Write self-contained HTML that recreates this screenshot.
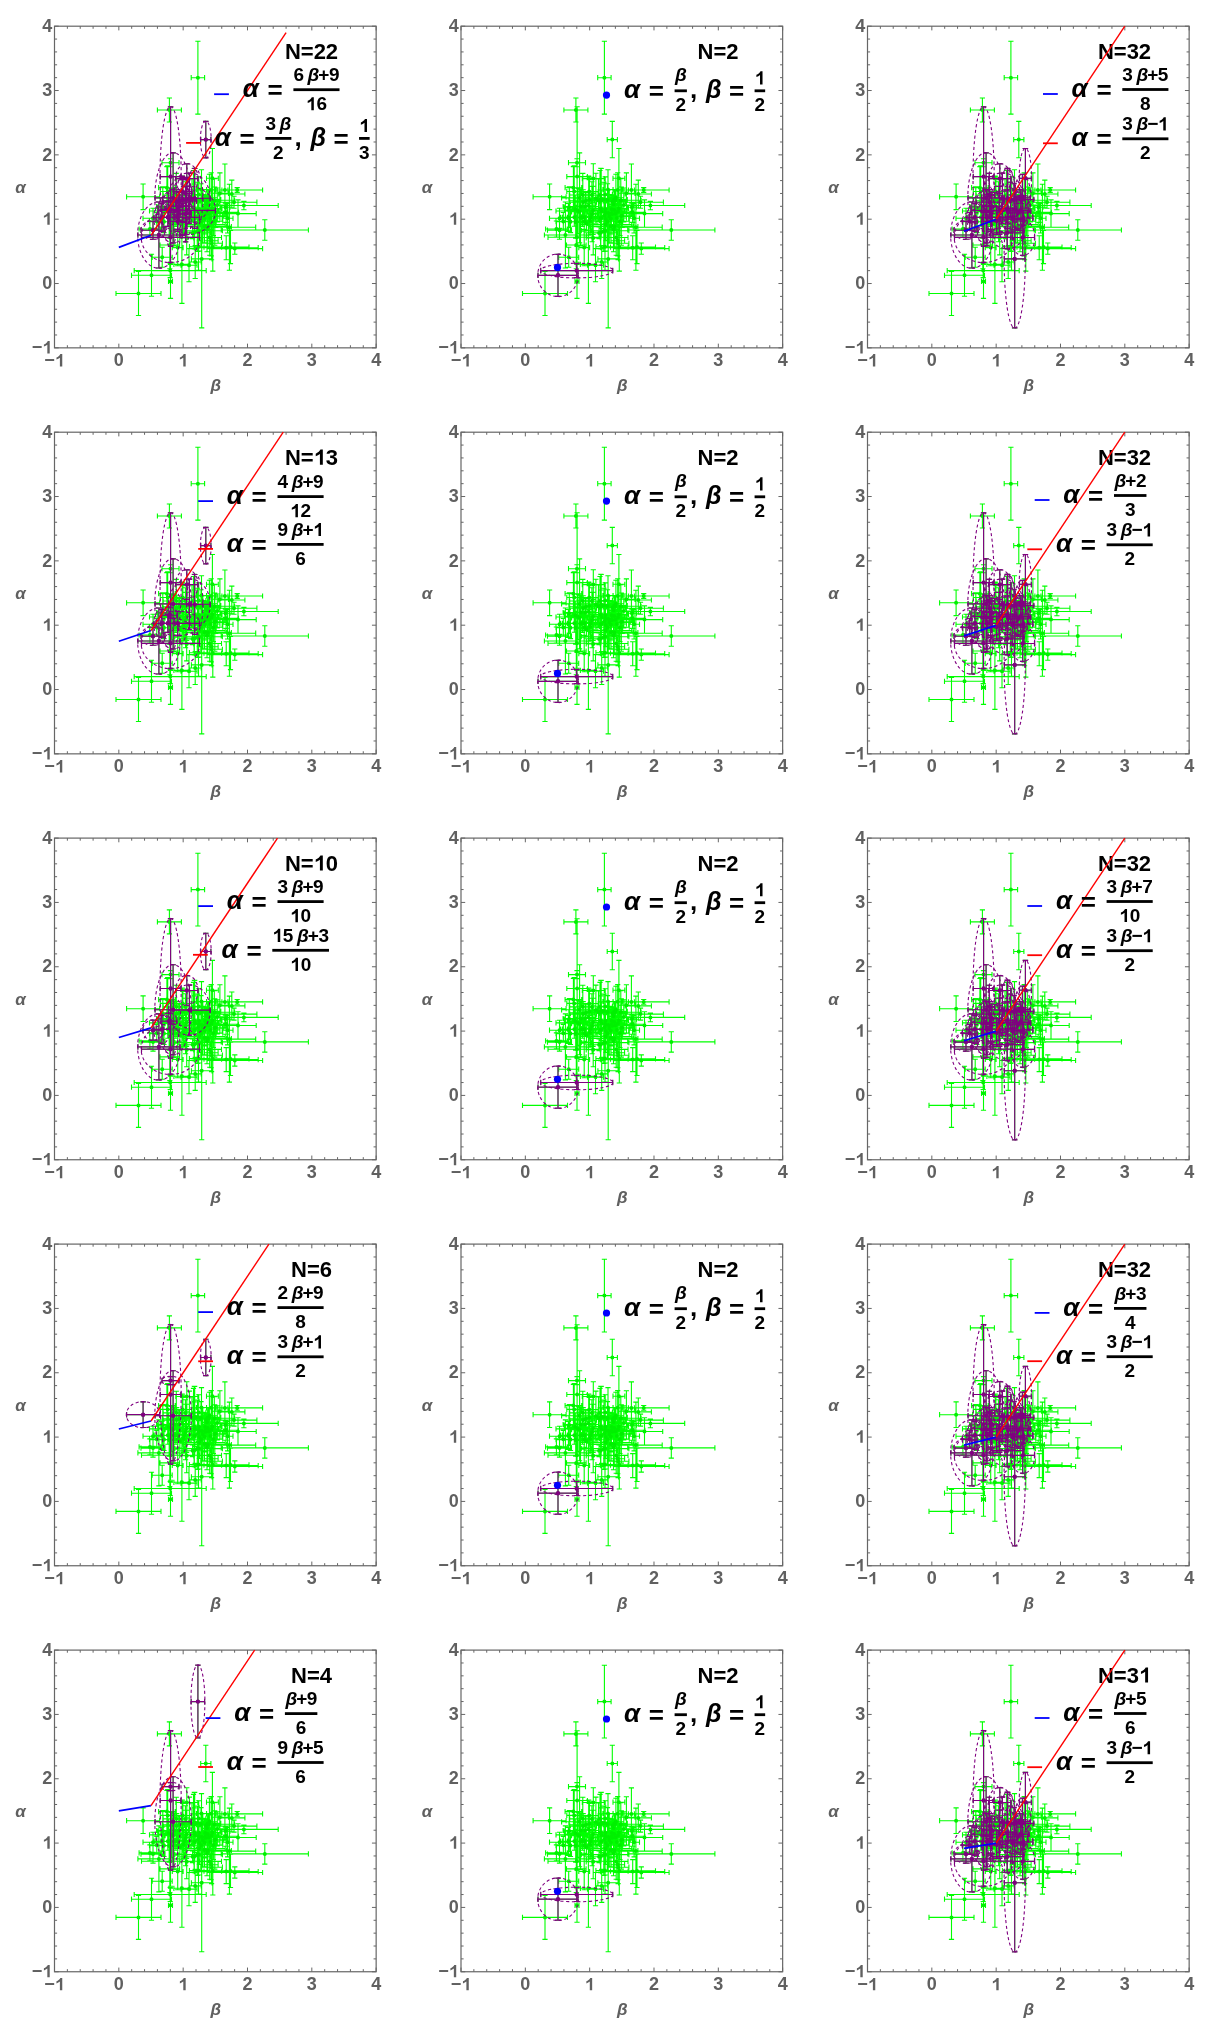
<!DOCTYPE html>
<html><head><meta charset="utf-8"><style>
html,body{margin:0;padding:0;background:#fff;width:1213px;height:2029px;overflow:hidden}
svg{display:block;font-family:"Liberation Sans",sans-serif;will-change:transform}
</style></head><body><svg width="1213" height="2029" viewBox="0 0 1213 2029" font-family="Liberation Sans" font-weight="bold"><defs><g id="ax"><rect x="0" y="0" width="321.65" height="321.65" fill="none" stroke="#666" stroke-width="1.2"/><path d="M0.00 321.65v-4.2M0.00 0v4.2M0 0.00h4.2M321.65 0.00h-4.2M12.87 321.65v-2.6M12.87 0v2.6M0 12.87h2.6M321.65 12.87h-2.6M25.73 321.65v-2.6M25.73 0v2.6M0 25.73h2.6M321.65 25.73h-2.6M38.60 321.65v-2.6M38.60 0v2.6M0 38.60h2.6M321.65 38.60h-2.6M51.46 321.65v-2.6M51.46 0v2.6M0 51.46h2.6M321.65 51.46h-2.6M64.33 321.65v-4.2M64.33 0v4.2M0 64.33h4.2M321.65 64.33h-4.2M77.20 321.65v-2.6M77.20 0v2.6M0 77.20h2.6M321.65 77.20h-2.6M90.06 321.65v-2.6M90.06 0v2.6M0 90.06h2.6M321.65 90.06h-2.6M102.93 321.65v-2.6M102.93 0v2.6M0 102.93h2.6M321.65 102.93h-2.6M115.79 321.65v-2.6M115.79 0v2.6M0 115.79h2.6M321.65 115.79h-2.6M128.66 321.65v-4.2M128.66 0v4.2M0 128.66h4.2M321.65 128.66h-4.2M141.53 321.65v-2.6M141.53 0v2.6M0 141.53h2.6M321.65 141.53h-2.6M154.39 321.65v-2.6M154.39 0v2.6M0 154.39h2.6M321.65 154.39h-2.6M167.26 321.65v-2.6M167.26 0v2.6M0 167.26h2.6M321.65 167.26h-2.6M180.12 321.65v-2.6M180.12 0v2.6M0 180.12h2.6M321.65 180.12h-2.6M192.99 321.65v-4.2M192.99 0v4.2M0 192.99h4.2M321.65 192.99h-4.2M205.86 321.65v-2.6M205.86 0v2.6M0 205.86h2.6M321.65 205.86h-2.6M218.72 321.65v-2.6M218.72 0v2.6M0 218.72h2.6M321.65 218.72h-2.6M231.59 321.65v-2.6M231.59 0v2.6M0 231.59h2.6M321.65 231.59h-2.6M244.45 321.65v-2.6M244.45 0v2.6M0 244.45h2.6M321.65 244.45h-2.6M257.32 321.65v-4.2M257.32 0v4.2M0 257.32h4.2M321.65 257.32h-4.2M270.19 321.65v-2.6M270.19 0v2.6M0 270.19h2.6M321.65 270.19h-2.6M283.05 321.65v-2.6M283.05 0v2.6M0 283.05h2.6M321.65 283.05h-2.6M295.92 321.65v-2.6M295.92 0v2.6M0 295.92h2.6M321.65 295.92h-2.6M308.78 321.65v-2.6M308.78 0v2.6M0 308.78h2.6M321.65 308.78h-2.6M321.65 321.65v-4.2M321.65 0v4.2M0 321.65h4.2M321.65 321.65h-4.2" stroke="#666" stroke-width="1" fill="none"/><text x="-10.26" y="340.25" font-size="18" fill="#606060">− </text><path transform="translate(0.25,340.25) scale(0.00879,-0.00879)" d="M855 0H585V1000C475 900 345 840 195 790V1030C285 1060 385 1120 475 1200C555 1270 605 1340 635 1409H855Z" fill="#606060"/><text x="-22.82" y="327.24" font-size="18" fill="#606060">− </text><path transform="translate(-12.31,327.24) scale(0.00879,-0.00879)" d="M855 0H585V1000C475 900 345 840 195 790V1030C285 1060 385 1120 475 1200C555 1270 605 1340 635 1409H855Z" fill="#606060"/><text x="59.32" y="340.25" font-size="18" fill="#606060">0</text><text x="-12.31" y="262.91" font-size="18" fill="#606060">0</text><text x="123.65" y="340.25" font-size="18" fill="#606060"> </text><path transform="translate(123.65,340.25) scale(0.00879,-0.00879)" d="M855 0H585V1000C475 900 345 840 195 790V1030C285 1060 385 1120 475 1200C555 1270 605 1340 635 1409H855Z" fill="#606060"/><text x="-12.31" y="198.58" font-size="18" fill="#606060"> </text><path transform="translate(-12.31,198.58) scale(0.00879,-0.00879)" d="M855 0H585V1000C475 900 345 840 195 790V1030C285 1060 385 1120 475 1200C555 1270 605 1340 635 1409H855Z" fill="#606060"/><text x="187.98" y="340.25" font-size="18" fill="#606060">2</text><text x="-12.31" y="134.34" font-size="18" fill="#606060">2</text><text x="252.31" y="340.25" font-size="18" fill="#606060">3</text><text x="-12.31" y="69.89" font-size="18" fill="#606060">3</text><text x="316.64" y="340.25" font-size="18" fill="#606060">4</text><text x="-12.31" y="5.59" font-size="18" fill="#606060">4</text><text x="-39.25" y="166.60" font-size="17" font-style="italic" fill="#606060">α</text><text x="156.10" y="364.50" font-size="17" font-style="italic" fill="#606060">β</text></g><g id="gr"><path d="M136.7 51.5H150.1M143.4 15.1V87.9M136.7 48.9v5.2M150.1 48.9v5.2M140.8 15.1h5.2M140.8 87.9h5.2M102.9 83.8H126.9M114.9 71.8V95.8M102.9 81.2v5.2M126.9 81.2v5.2M112.3 71.8h5.2M112.3 95.8h5.2M146.2 113.4H156.4M151.3 95.2V131.6M146.2 110.8v5.2M156.4 110.8v5.2M148.7 95.2h5.2M148.7 131.6h5.2M72.1 170.6H105.1M88.6 157.8V183.4M72.1 168.0v5.2M105.1 168.0v5.2M86.0 157.8h5.2M86.0 183.4h5.2M107.5 136.5H124.5M116.0 132.5V140.5M107.5 133.9v5.2M124.5 133.9v5.2M113.4 132.5h5.2M113.4 140.5h5.2M105.8 150.4H126.4M116.1 80.6V220.2M105.8 147.8v5.2M126.4 147.8v5.2M113.5 80.6h5.2M113.5 220.2h5.2M100.6 171.7H136.6M118.6 126.7V216.7M100.6 169.1v5.2M136.6 169.1v5.2M116.0 126.7h5.2M116.0 216.7h5.2M152.0 152.1H163.8M157.9 122.3V181.9M152.0 149.5v5.2M163.8 149.5v5.2M155.3 122.3h5.2M155.3 181.9h5.2M157.3 163.8H208.1M182.7 161.4V166.2M157.3 161.2v5.2M208.1 161.2v5.2M180.1 161.4h5.2M180.1 166.2h5.2M155.1 179.3H223.7M189.4 175.0V183.6M155.1 176.7v5.2M223.7 176.7v5.2M186.8 175.0h5.2M186.8 183.6h5.2M156.6 176.0H202.4M179.5 170.0V182.0M156.6 173.4v5.2M202.4 173.4v5.2M176.9 170.0h5.2M176.9 182.0h5.2M165.3 187.4H201.7M183.5 173.7V201.1M165.3 184.8v5.2M201.7 184.8v5.2M180.9 173.7h5.2M180.9 201.1h5.2M166.7 203.8H253.9M210.3 193.6V214.0M166.7 201.2v5.2M253.9 201.2v5.2M207.7 193.6h5.2M207.7 214.0h5.2M148.6 201.0H201.2M174.9 158.0V244.0M148.6 198.4v5.2M201.2 198.4v5.2M172.3 158.0h5.2M172.3 244.0h5.2M152.5 222.4H208.1M180.3 216.8V228.0M152.5 219.8v5.2M208.1 219.8v5.2M177.7 216.8h5.2M177.7 228.0h5.2M157.5 220.8H194.5M176.0 204.2V237.4M157.5 218.2v5.2M194.5 218.2v5.2M173.4 204.2h5.2M173.4 237.4h5.2M139.7 221.5H203.7M171.7 209.5V233.5M139.7 218.9v5.2M203.7 218.9v5.2M169.1 209.5h5.2M169.1 233.5h5.2M61.5 267.3H106.5M84.0 245.3V289.3M61.5 264.7v5.2M106.5 264.7v5.2M81.4 245.3h5.2M81.4 289.3h5.2M77.0 249.1H117.0M97.0 228.1V270.1M77.0 246.5v5.2M117.0 246.5v5.2M94.4 228.1h5.2M94.4 270.1h5.2M79.7 244.4H151.7M115.7 237.4V251.4M79.7 241.8v5.2M151.7 241.8v5.2M113.1 237.4h5.2M113.1 251.4h5.2M136.9 232.7H157.5M147.2 163.7V301.7M136.9 230.1v5.2M157.5 230.1v5.2M144.6 163.7h5.2M144.6 301.7h5.2M119.4 238.2H135.4M127.4 199.2V277.2M119.4 235.6v5.2M135.4 235.6v5.2M124.8 199.2h5.2M124.8 277.2h5.2M126.5 239.0H142.5M134.5 222.4V255.6M126.5 236.4v5.2M142.5 236.4v5.2M131.9 222.4h5.2M131.9 255.6h5.2M121.3 152.4H143.3M132.3 137.6V167.2M121.3 149.8v5.2M143.3 149.8v5.2M129.7 137.6h5.2M129.7 167.2h5.2M97.7 231.1H117.7M107.7 221.1V241.1M97.7 228.5v5.2M117.7 228.5v5.2M105.1 221.1h5.2M105.1 241.1h5.2M114.0 255.2H118.0M116.0 238.2V272.2M114.0 252.6v5.2M118.0 252.6v5.2M113.4 238.2h5.2M113.4 272.2h5.2M114.3 172.0H155.5M134.9 147.0V197.0M114.3 169.4v5.2M155.5 169.4v5.2M132.3 147.0h5.2M132.3 197.0h5.2M106.3 183.0H122.3M114.3 175.0V191.0M106.3 180.4v5.2M122.3 180.4v5.2M111.7 175.0h5.2M111.7 191.0h5.2M99.4 191.3H115.4M107.4 177.3V205.3M99.4 188.7v5.2M115.4 188.7v5.2M104.8 177.3h5.2M104.8 205.3h5.2M83.4 208.8H125.4M104.4 175.8V241.8M83.4 206.2v5.2M125.4 206.2v5.2M101.8 175.8h5.2M101.8 241.8h5.2M87.0 211.1H145.0M116.0 186.1V236.1M87.0 208.5v5.2M145.0 208.5v5.2M113.4 186.1h5.2M113.4 236.1h5.2M167.4 163.8H173.4M170.4 137.8V189.8M167.4 161.2v5.2M173.4 161.2v5.2M167.8 137.8h5.2M167.8 189.8h5.2M130.8 182.4H148.8M139.8 142.1V222.7M130.8 179.8v5.2M148.8 179.8v5.2M137.2 142.1h5.2M137.2 222.7h5.2M139.5 173.8H153.5M146.5 157.5V190.1M139.5 171.2v5.2M153.5 171.2v5.2M143.9 157.5h5.2M143.9 190.1h5.2M134.7 235.8H146.7M140.7 219.3V252.3M134.7 233.2v5.2M146.7 233.2v5.2M138.1 219.3h5.2M138.1 252.3h5.2M88.5 192.1H108.5M98.5 182.1V202.1M88.5 189.5v5.2M108.5 189.5v5.2M95.9 182.1h5.2M95.9 202.1h5.2M84.6 202.8H106.2M95.4 194.8V210.8M84.6 200.2v5.2M106.2 200.2v5.2M92.8 194.8h5.2M92.8 210.8h5.2M132.2 172.3H148.2M140.2 142.3V202.3M132.2 169.7v5.2M148.2 169.7v5.2M137.6 142.3h5.2M137.6 202.3h5.2M106.3 191.1H120.3M113.3 182.1V200.1M106.3 188.5v5.2M120.3 188.5v5.2M110.7 182.1h5.2M110.7 200.1h5.2M101.5 191.1H144.9M123.2 179.1V203.1M101.5 188.5v5.2M144.9 188.5v5.2M120.6 179.1h5.2M120.6 203.1h5.2M86.5 204.0H110.5M98.5 195.0V213.0M86.5 201.4v5.2M110.5 201.4v5.2M95.9 195.0h5.2M95.9 213.0h5.2M119.2 165.4H137.2M128.2 153.4V177.4M119.2 162.8v5.2M137.2 162.8v5.2M125.6 153.4h5.2M125.6 177.4h5.2M114.2 180.2H134.2M124.2 166.2V194.2M114.2 177.6v5.2M134.2 177.6v5.2M121.6 166.2h5.2M121.6 194.2h5.2M114.2 195.1H132.2M123.2 185.1V205.1M114.2 192.5v5.2M132.2 192.5v5.2M120.6 185.1h5.2M120.6 205.1h5.2M99.7 191.1H143.1M121.4 182.0V200.2M99.7 188.5v5.2M143.1 188.5v5.2M118.8 182.0h5.2M118.8 200.2h5.2M110.6 185.6H126.4M118.5 174.9V196.3M110.6 183.0v5.2M126.4 183.0v5.2M115.9 174.9h5.2M115.9 196.3h5.2M103.2 181.0H113.4M108.3 160.5V201.5M103.2 178.4v5.2M113.4 178.4v5.2M105.7 160.5h5.2M105.7 201.5h5.2M119.1 173.7H137.7M128.4 151.1V196.3M119.1 171.1v5.2M137.7 171.1v5.2M125.8 151.1h5.2M125.8 196.3h5.2M167.7 192.1H178.5M173.1 177.4V206.8M167.7 189.5v5.2M178.5 189.5v5.2M170.5 177.4h5.2M170.5 206.8h5.2M138.6 175.2H164.6M151.6 169.3V181.1M138.6 172.6v5.2M164.6 172.6v5.2M149.0 169.3h5.2M149.0 181.1h5.2M159.3 186.2H183.9M171.6 176.2V196.2M159.3 183.6v5.2M183.9 183.6v5.2M169.0 176.2h5.2M169.0 196.2h5.2M154.4 189.6H168.0M161.2 178.0V201.2M154.4 187.0v5.2M168.0 187.0v5.2M158.6 178.0h5.2M158.6 201.2h5.2M166.3 181.0H175.5M170.9 177.0V185.0M166.3 178.4v5.2M175.5 178.4v5.2M168.3 177.0h5.2M168.3 185.0h5.2M149.9 185.4H164.1M157.0 174.6V196.2M149.9 182.8v5.2M164.1 182.8v5.2M154.4 174.6h5.2M154.4 196.2h5.2M127.4 191.7H153.0M140.2 172.3V211.1M127.4 189.1v5.2M153.0 189.1v5.2M137.6 172.3h5.2M137.6 211.1h5.2M143.9 192.6H155.9M149.9 168.6V216.6M143.9 190.0v5.2M155.9 190.0v5.2M147.3 168.6h5.2M147.3 216.6h5.2M127.9 200.0H172.1M150.0 192.2V207.8M127.9 197.4v5.2M172.1 197.4v5.2M147.4 192.2h5.2M147.4 207.8h5.2M119.7 194.5H138.5M129.1 180.7V208.3M119.7 191.9v5.2M138.5 191.9v5.2M126.5 180.7h5.2M126.5 208.3h5.2M145.2 187.7H157.2M151.2 180.4V195.0M145.2 185.1v5.2M157.2 185.1v5.2M148.6 180.4h5.2M148.6 195.0h5.2M123.1 206.6H156.1M139.6 190.9V222.3M123.1 204.0v5.2M156.1 204.0v5.2M137.0 190.9h5.2M137.0 222.3h5.2M149.5 195.0H168.3M158.9 180.6V209.4M149.5 192.4v5.2M168.3 192.4v5.2M156.3 180.6h5.2M156.3 209.4h5.2M95.0 195.2H109.6M102.3 186.3V204.1M95.0 192.6v5.2M109.6 192.6v5.2M99.7 186.3h5.2M99.7 204.1h5.2M132.8 192.9H156.8M144.8 182.2V203.6M132.8 190.3v5.2M156.8 190.3v5.2M142.2 182.2h5.2M142.2 203.6h5.2M129.7 200.4H176.9M153.3 180.3V220.5M129.7 197.8v5.2M176.9 197.8v5.2M150.7 180.3h5.2M150.7 220.5h5.2M121.5 179.5H133.9M127.7 149.9V209.1M121.5 176.9v5.2M133.9 176.9v5.2M125.1 149.9h5.2M125.1 209.1h5.2M130.1 204.7H155.5M142.8 184.1V225.3M130.1 202.1v5.2M155.5 202.1v5.2M140.2 184.1h5.2M140.2 225.3h5.2M146.3 203.2H158.7M152.5 180.8V225.6M146.3 200.6v5.2M158.7 200.6v5.2M149.9 180.8h5.2M149.9 225.6h5.2M142.3 174.1H166.1M154.2 163.4V184.8M142.3 171.5v5.2M166.1 171.5v5.2M151.6 163.4h5.2M151.6 184.8h5.2M146.4 191.8H165.4M155.9 184.3V199.3M146.4 189.2v5.2M165.4 189.2v5.2M153.3 184.3h5.2M153.3 199.3h5.2M123.1 190.2H173.5M148.3 163.5V216.9M123.1 187.6v5.2M173.5 187.6v5.2M145.7 163.5h5.2M145.7 216.9h5.2M138.7 189.2H148.7M143.7 173.3V205.1M138.7 186.6v5.2M148.7 186.6v5.2M141.1 173.3h5.2M141.1 205.1h5.2M137.2 186.2H151.2M144.2 174.9V197.5M137.2 183.6v5.2M151.2 183.6v5.2M141.6 174.9h5.2M141.6 197.5h5.2M122.3 186.8H172.3M147.3 182.3V191.3M122.3 184.2v5.2M172.3 184.2v5.2M144.7 182.3h5.2M144.7 191.3h5.2M124.7 168.9H153.3M139.0 144.3V193.5M124.7 166.3v5.2M153.3 166.3v5.2M136.4 144.3h5.2M136.4 193.5h5.2M147.0 178.1H158.0M152.5 174.0V182.2M147.0 175.5v5.2M158.0 175.5v5.2M149.9 174.0h5.2M149.9 182.2h5.2M119.3 197.0H131.5M125.4 190.1V203.9M119.3 194.4v5.2M131.5 194.4v5.2M122.8 190.1h5.2M122.8 203.9h5.2M139.5 174.1H180.1M159.8 152.5V195.7M139.5 171.5v5.2M180.1 171.5v5.2M157.2 152.5h5.2M157.2 195.7h5.2M122.2 182.7H166.8M144.5 176.7V188.7M122.2 180.1v5.2M166.8 180.1v5.2M141.9 176.7h5.2M141.9 188.7h5.2M120.3 204.5H167.9M144.1 184.1V224.9M120.3 201.9v5.2M167.9 201.9v5.2M141.5 184.1h5.2M141.5 224.9h5.2M143.4 187.5H165.6M154.5 171.8V203.2M143.4 184.9v5.2M165.6 184.9v5.2M151.9 171.8h5.2M151.9 203.2h5.2M95.0 195.5H124.0M109.5 184.6V206.4M95.0 192.9v5.2M124.0 192.9v5.2M106.9 184.6h5.2M106.9 206.4h5.2M102.4 195.6H127.0M114.7 179.1V212.1M102.4 193.0v5.2M127.0 193.0v5.2M112.1 179.1h5.2M112.1 212.1h5.2M141.7 183.0H159.7M150.7 178.7V187.3M141.7 180.4v5.2M159.7 180.4v5.2M148.1 178.7h5.2M148.1 187.3h5.2M145.3 183.9H161.3M153.3 163.4V204.4M145.3 181.3v5.2M161.3 181.3v5.2M150.7 163.4h5.2M150.7 204.4h5.2M118.7 198.4H170.7M144.7 182.4V214.4M118.7 195.8v5.2M170.7 195.8v5.2M142.1 182.4h5.2M142.1 214.4h5.2M140.1 173.3H166.3M153.2 169.6V177.0M140.1 170.7v5.2M166.3 170.7v5.2M150.6 169.6h5.2M150.6 177.0h5.2M108.9 176.0H135.5M122.2 163.5V188.5M108.9 173.4v5.2M135.5 173.4v5.2M119.6 163.5h5.2M119.6 188.5h5.2M102.1 180.4H137.7M119.9 176.1V184.7M102.1 177.8v5.2M137.7 177.8v5.2M117.3 176.1h5.2M117.3 184.7h5.2M132.4 206.7H143.8M138.1 200.8V212.6M132.4 204.1v5.2M143.8 204.1v5.2M135.5 200.8h5.2M135.5 212.6h5.2M107.9 174.6H142.1M125.0 165.5V183.7M107.9 172.0v5.2M142.1 172.0v5.2M122.4 165.5h5.2M122.4 183.7h5.2M125.7 187.9H136.5M131.1 160.2V215.6M125.7 185.3v5.2M136.5 185.3v5.2M128.5 160.2h5.2M128.5 215.6h5.2M131.3 195.1H161.7M146.5 169.1V221.1M131.3 192.5v5.2M161.7 192.5v5.2M143.9 169.1h5.2M143.9 221.1h5.2M140.8 186.7H160.0M150.4 170.7V202.7M140.8 184.1v5.2M160.0 184.1v5.2M147.8 170.7h5.2M147.8 202.7h5.2M114.7 191.4H124.3M119.5 163.1V219.7M114.7 188.8v5.2M124.3 188.8v5.2M116.9 163.1h5.2M116.9 219.7h5.2M148.1 182.4H167.5M157.8 176.9V187.9M148.1 179.8v5.2M167.5 179.8v5.2M155.2 176.9h5.2M155.2 187.9h5.2M164.2 167.8H190.4M177.3 153.9V181.7M164.2 165.2v5.2M190.4 165.2v5.2M174.7 153.9h5.2M174.7 181.7h5.2M117.7 184.8H163.1M140.4 163.8V205.8M117.7 182.2v5.2M163.1 182.2v5.2M137.8 163.8h5.2M137.8 205.8h5.2M125.1 191.2H134.3M129.7 185.3V197.1M125.1 188.6v5.2M134.3 188.6v5.2M127.1 185.3h5.2M127.1 197.1h5.2M151.4 189.9H169.2M160.3 160.8V219.0M151.4 187.3v5.2M169.2 187.3v5.2M157.7 160.8h5.2M157.7 219.0h5.2M95.0 184.8H139.2M117.1 162.3V207.3M95.0 182.2v5.2M139.2 182.2v5.2M114.5 162.3h5.2M114.5 207.3h5.2M108.7 168.8H153.1M130.9 155.6V182.0M108.7 166.2v5.2M153.1 166.2v5.2M128.3 155.6h5.2M128.3 182.0h5.2M103.4 184.2H160.8M132.1 160.1V208.3M103.4 181.6v5.2M160.8 181.6v5.2M129.5 160.1h5.2M129.5 208.3h5.2M153.4 178.8H172.2M162.8 161.8V195.8M153.4 176.2v5.2M172.2 176.2v5.2M160.2 161.8h5.2M160.2 195.8h5.2M137.0 168.3H151.4M144.2 150.7V185.9M137.0 165.7v5.2M151.4 165.7v5.2M141.6 150.7h5.2M141.6 185.9h5.2M116.5 168.7H127.1M121.8 147.2V190.2M116.5 166.1v5.2M127.1 166.1v5.2M119.2 147.2h5.2M119.2 190.2h5.2M104.1 161.5H120.7M112.4 140.4V182.6M104.1 158.9v5.2M120.7 158.9v5.2M109.8 140.4h5.2M109.8 182.6h5.2M133.5 174.5H145.9M139.7 157.8V191.2M133.5 171.9v5.2M145.9 171.9v5.2M137.1 157.8h5.2M137.1 191.2h5.2M147.0 171.6H162.8M154.9 148.1V195.1M147.0 169.0v5.2M162.8 169.0v5.2M152.3 148.1h5.2M152.3 195.1h5.2M156.8 167.1H174.0M165.4 146.7V187.5M156.8 164.5v5.2M174.0 164.5v5.2M162.8 146.7h5.2M162.8 187.5h5.2M137.1 173.0H148.9M143.0 156.0V190.0M137.1 170.4v5.2M148.9 170.4v5.2M140.4 156.0h5.2M140.4 190.0h5.2M130.0 174.2H145.0M137.5 152.8V195.6M130.0 171.6v5.2M145.0 171.6v5.2M134.9 152.8h5.2M134.9 195.6h5.2M141.9 163.4H152.1M147.0 143.5V183.3M141.9 160.8v5.2M152.1 160.8v5.2M144.4 143.5h5.2M144.4 183.3h5.2M152.0 163.7H161.4M156.7 146.5V180.9M152.0 161.1v5.2M161.4 161.1v5.2M154.1 146.5h5.2M154.1 180.9h5.2M105.8 165.3H120.6M113.2 139.5V191.1M105.8 162.7v5.2M120.6 162.7v5.2M110.6 139.5h5.2M110.6 191.1h5.2M125.2 211.7H139.2M132.2 194.7V228.7M125.2 209.1v5.2M139.2 209.1v5.2M129.6 194.7h5.2M129.6 228.7h5.2M150.0 214.6H163.6M156.8 199.5V229.7M150.0 212.0v5.2M163.6 212.0v5.2M154.2 199.5h5.2M154.2 229.7h5.2M146.3 217.1H167.9M157.1 200.7V233.5M146.3 214.5v5.2M167.9 214.5v5.2M154.5 200.7h5.2M154.5 233.5h5.2M134.9 220.5H153.1M144.0 197.0V244.0M134.9 217.9v5.2M153.1 217.9v5.2M141.4 197.0h5.2M141.4 244.0h5.2M117.8 221.4H128.6M123.2 203.2V239.6M117.8 218.8v5.2M128.6 218.8v5.2M120.6 203.2h5.2M120.6 239.6h5.2M105.5 218.8H125.1M115.3 195.1V242.5M105.5 216.2v5.2M125.1 216.2v5.2M112.7 195.1h5.2M112.7 242.5h5.2M149.5 221.0H167.1M158.3 197.1V244.9M149.5 218.4v5.2M167.1 218.4v5.2M155.7 197.1h5.2M155.7 244.9h5.2M143.4 211.3H167.0M155.2 193.5V229.1M143.4 208.7v5.2M167.0 208.7v5.2M152.6 193.5h5.2M152.6 229.1h5.2" stroke="#00ff00" stroke-width="1.1" fill="none"/><path d="M143.4 51.5h0M114.9 83.8h0M151.3 113.4h0M88.6 170.6h0M116.0 136.5h0M116.1 150.4h0M118.6 171.7h0M157.9 152.1h0M182.7 163.8h0M189.4 179.3h0M179.5 176.0h0M183.5 187.4h0M210.3 203.8h0M174.9 201.0h0M180.3 222.4h0M176.0 220.8h0M171.7 221.5h0M84.0 267.3h0M97.0 249.1h0M115.7 244.4h0M147.2 232.7h0M127.4 238.2h0M134.5 239.0h0M132.3 152.4h0M107.7 231.1h0M116.0 255.2h0M134.9 172.0h0M114.3 183.0h0M107.4 191.3h0M104.4 208.8h0M116.0 211.1h0M170.4 163.8h0M139.8 182.4h0M146.5 173.8h0M140.7 235.8h0M98.5 192.1h0M95.4 202.8h0M140.2 172.3h0M113.3 191.1h0M123.2 191.1h0M98.5 204.0h0M128.2 165.4h0M124.2 180.2h0M123.2 195.1h0M121.4 191.1h0M118.5 185.6h0M108.3 181.0h0M128.4 173.7h0M173.1 192.1h0M151.6 175.2h0M171.6 186.2h0M161.2 189.6h0M170.9 181.0h0M157.0 185.4h0M140.2 191.7h0M149.9 192.6h0M150.0 200.0h0M129.1 194.5h0M151.2 187.7h0M139.6 206.6h0M158.9 195.0h0M102.3 195.2h0M144.8 192.9h0M153.3 200.4h0M127.7 179.5h0M142.8 204.7h0M152.5 203.2h0M154.2 174.1h0M155.9 191.8h0M148.3 190.2h0M143.7 189.2h0M144.2 186.2h0M147.3 186.8h0M139.0 168.9h0M152.5 178.1h0M125.4 197.0h0M159.8 174.1h0M144.5 182.7h0M144.1 204.5h0M154.5 187.5h0M109.5 195.5h0M114.7 195.6h0M150.7 183.0h0M153.3 183.9h0M144.7 198.4h0M153.2 173.3h0M122.2 176.0h0M119.9 180.4h0M138.1 206.7h0M125.0 174.6h0M131.1 187.9h0M146.5 195.1h0M150.4 186.7h0M119.5 191.4h0M157.8 182.4h0M177.3 167.8h0M140.4 184.8h0M129.7 191.2h0M160.3 189.9h0M117.1 184.8h0M130.9 168.8h0M132.1 184.2h0M162.8 178.8h0M144.2 168.3h0M121.8 168.7h0M112.4 161.5h0M139.7 174.5h0M154.9 171.6h0M165.4 167.1h0M143.0 173.0h0M137.5 174.2h0M147.0 163.4h0M156.7 163.7h0M113.2 165.3h0M132.2 211.7h0M156.8 214.6h0M157.1 217.1h0M144.0 220.5h0M123.2 221.4h0M115.3 218.8h0M158.3 221.0h0M155.2 211.3h0" stroke="#00f000" stroke-width="4.0" stroke-linecap="round" fill="none"/></g></defs><g transform="translate(54.5,26.2)"><use href="#ax"/><use href="#gr"/><g fill="none" stroke="#800080" stroke-width="1.1" stroke-dasharray="3.1 2.6"><ellipse cx="151.3" cy="113.4" rx="5.4" ry="18.5"/><ellipse cx="116.1" cy="150.4" rx="10.6" ry="70.1"/><ellipse cx="132.3" cy="152.4" rx="11.3" ry="15.1"/><ellipse cx="118.6" cy="171.7" rx="18.3" ry="45.3"/><ellipse cx="134.9" cy="172.0" rx="20.9" ry="25.3"/><ellipse cx="140.2" cy="172.3" rx="8.3" ry="30.3"/><ellipse cx="114.3" cy="183.0" rx="8.3" ry="8.3"/><ellipse cx="107.4" cy="191.3" rx="8.3" ry="14.3"/><ellipse cx="113.3" cy="191.1" rx="7.3" ry="9.3"/><ellipse cx="123.2" cy="191.1" rx="22.0" ry="12.3"/><ellipse cx="98.5" cy="204.0" rx="12.3" ry="9.3"/><ellipse cx="104.4" cy="208.8" rx="21.3" ry="33.3"/><ellipse cx="116.0" cy="211.1" rx="29.3" ry="25.3"/><ellipse cx="128.2" cy="165.4" rx="9.3" ry="12.3"/><ellipse cx="124.2" cy="180.2" rx="10.3" ry="14.3"/><ellipse cx="123.2" cy="195.1" rx="9.3" ry="10.3"/><ellipse cx="127.7" cy="179.5" rx="6.5" ry="29.9"/><ellipse cx="132.1" cy="184.2" rx="29.0" ry="24.4"/><ellipse cx="131.1" cy="187.9" rx="5.7" ry="28.0"/><ellipse cx="128.4" cy="173.7" rx="9.6" ry="22.9"/><ellipse cx="125.0" cy="174.6" rx="17.4" ry="9.4"/><ellipse cx="122.2" cy="176.0" rx="13.6" ry="12.8"/></g><path d="M151.3 95.2V131.6M148.5 95.2h5.6M148.5 131.6h5.6M116.1 80.6V220.2M113.3 80.6h5.6M113.3 220.2h5.6M132.3 137.6V167.2M129.5 137.6h5.6M129.5 167.2h5.6M118.6 126.7V216.7M115.8 126.7h5.6M115.8 216.7h5.6M134.9 147.0V197.0M132.1 147.0h5.6M132.1 197.0h5.6M140.2 142.3V202.3M137.4 142.3h5.6M137.4 202.3h5.6M114.3 175.0V191.0M111.5 175.0h5.6M111.5 191.0h5.6M107.4 177.3V205.3M104.6 177.3h5.6M104.6 205.3h5.6M113.3 182.1V200.1M110.5 182.1h5.6M110.5 200.1h5.6M123.2 179.1V203.1M120.4 179.1h5.6M120.4 203.1h5.6M98.5 195.0V213.0M95.7 195.0h5.6M95.7 213.0h5.6M104.4 175.8V241.8M101.6 175.8h5.6M101.6 241.8h5.6M116.0 186.1V236.1M113.2 186.1h5.6M113.2 236.1h5.6M128.2 153.4V177.4M125.4 153.4h5.6M125.4 177.4h5.6M124.2 166.2V194.2M121.4 166.2h5.6M121.4 194.2h5.6M123.2 185.1V205.1M120.4 185.1h5.6M120.4 205.1h5.6M127.7 149.9V209.1M124.9 149.9h5.6M124.9 209.1h5.6M132.1 160.1V208.3M129.3 160.1h5.6M129.3 208.3h5.6M131.1 160.2V215.6M128.3 160.2h5.6M128.3 215.6h5.6M128.4 151.1V196.3M125.6 151.1h5.6M125.6 196.3h5.6M125.0 165.5V183.7M122.2 165.5h5.6M122.2 183.7h5.6M122.2 163.5V188.5M119.4 163.5h5.6M119.4 188.5h5.6" stroke="#800080" stroke-width="1.15" fill="none"/><path d="M146.2 113.4H156.4M146.2 110.6v5.6M156.4 110.6v5.6M105.8 150.4H126.4M105.8 147.6v5.6M126.4 147.6v5.6M121.3 152.4H143.3M121.3 149.6v5.6M143.3 149.6v5.6M100.6 171.7H136.6M100.6 168.9v5.6M136.6 168.9v5.6M114.3 172.0H155.5M114.3 169.2v5.6M155.5 169.2v5.6M132.2 172.3H148.2M132.2 169.5v5.6M148.2 169.5v5.6M106.3 183.0H122.3M106.3 180.2v5.6M122.3 180.2v5.6M99.4 191.3H115.4M99.4 188.5v5.6M115.4 188.5v5.6M106.3 191.1H120.3M106.3 188.3v5.6M120.3 188.3v5.6M101.5 191.1H144.9M101.5 188.3v5.6M144.9 188.3v5.6M86.5 204.0H110.5M86.5 201.2v5.6M110.5 201.2v5.6M83.4 208.8H125.4M83.4 206.0v5.6M125.4 206.0v5.6M87.0 211.1H145.0M87.0 208.3v5.6M145.0 208.3v5.6M119.2 165.4H137.2M119.2 162.6v5.6M137.2 162.6v5.6M114.2 180.2H134.2M114.2 177.4v5.6M134.2 177.4v5.6M114.2 195.1H132.2M114.2 192.3v5.6M132.2 192.3v5.6M121.5 179.5H133.9M121.5 176.7v5.6M133.9 176.7v5.6M103.4 184.2H160.8M103.4 181.4v5.6M160.8 181.4v5.6M125.7 187.9H136.5M125.7 185.1v5.6M136.5 185.1v5.6M119.1 173.7H137.7M119.1 170.9v5.6M137.7 170.9v5.6M107.9 174.6H142.1M107.9 171.8v5.6M142.1 171.8v5.6M108.9 176.0H135.5M108.9 173.2v5.6M135.5 173.2v5.6" stroke="#800080" stroke-width="1.15" fill="none"/><path d="M151.3 113.4h0M116.1 150.4h0M132.3 152.4h0M118.6 171.7h0M134.9 172.0h0M140.2 172.3h0M114.3 183.0h0M107.4 191.3h0M113.3 191.1h0M123.2 191.1h0M98.5 204.0h0M104.4 208.8h0M116.0 211.1h0M128.2 165.4h0M124.2 180.2h0M123.2 195.1h0M127.7 179.5h0M132.1 184.2h0M131.1 187.9h0M128.4 173.7h0M125.0 174.6h0M122.2 176.0h0" stroke="#800080" stroke-width="4.4" stroke-linecap="round" fill="none"/><text x="230.40" y="32.50" font-size="22">N=22</text><path d="M64.33 221.13L96.50 209.07" stroke="#0000ff" stroke-width="1.7" fill="none"/><path d="M96.50 209.07L231.59 6.43" stroke="#ff0000" stroke-width="1.4" fill="none"/><path d="M159.6 68.0h14.8" stroke="#0000ff" stroke-width="1.8"/><text x="188.19" y="71.00" font-size="26" font-style="italic">α</text><text x="213.00" y="72.91" font-size="26">=</text><rect x="238.90" y="62.10" width="46.12" height="2.8"/><text x="238.90" y="55.10" font-size="19">6</text><text x="253.07" y="55.10" font-size="19" font-style="italic">β</text><text x="263.86" y="55.10" font-size="19">+</text><text x="274.45" y="55.10" font-size="19">9</text><text x="251.39" y="84.10" font-size="19"> 6</text><path transform="translate(251.39,84.10) scale(0.00928,-0.00928)" d="M855 0H585V1000C475 900 345 840 195 790V1030C285 1060 385 1120 475 1200C555 1270 605 1340 635 1409H855Z"/><path d="M131.6 116.7h14.8" stroke="#ff0000" stroke-width="1.8"/><text x="160.19" y="119.70" font-size="26" font-style="italic">α</text><text x="185.00" y="121.61" font-size="26">=</text><rect x="210.90" y="110.80" width="25.96" height="2.8"/><text x="210.90" y="103.80" font-size="19">3</text><text x="225.07" y="103.80" font-size="19" font-style="italic">β</text><text x="218.60" y="132.80" font-size="19">2</text><text x="240.00" y="119.70" font-size="26">,</text><text x="256.02" y="119.70" font-size="25" font-style="italic">β</text><text x="279.05" y="121.61" font-size="26">=</text><rect x="304.56" y="110.80" width="10.57" height="2.8"/><text x="304.56" y="105.80" font-size="19"> </text><path transform="translate(304.56,105.80) scale(0.00928,-0.00928)" d="M855 0H585V1000C475 900 345 840 195 790V1030C285 1060 385 1120 475 1200C555 1270 605 1340 635 1409H855Z"/><text x="304.56" y="132.80" font-size="19">3</text></g><g transform="translate(461.0,26.2)"><use href="#ax"/><use href="#gr"/><g fill="none" stroke="#800080" stroke-width="1.1" stroke-dasharray="3.1 2.6"><ellipse cx="97.0" cy="249.1" rx="20.3" ry="21.3"/><ellipse cx="115.7" cy="244.4" rx="36.3" ry="7.3"/></g><path d="M97.0 228.1V270.1M94.2 228.1h5.6M94.2 270.1h5.6M115.7 237.4V251.4M112.9 237.4h5.6M112.9 251.4h5.6" stroke="#800080" stroke-width="1.15" fill="none"/><path d="M77.0 249.1H117.0M77.0 246.3v5.6M117.0 246.3v5.6M79.7 244.4H151.7M79.7 241.6v5.6M151.7 241.6v5.6" stroke="#800080" stroke-width="1.15" fill="none"/><path d="M97.0 249.1h0M115.7 244.4h0" stroke="#800080" stroke-width="4.4" stroke-linecap="round" fill="none"/><text x="236.51" y="32.50" font-size="22">N=2</text><circle cx="96.50" cy="241.24" r="3.6" fill="#0000ff"/><circle cx="145.5" cy="68.9" r="3.6" fill="#0000ff"/><text x="162.88" y="72.10" font-size="26" font-style="italic">α</text><text x="187.69" y="74.01" font-size="26">=</text><rect x="213.60" y="63.20" width="12.29" height="2.8"/><text x="214.10" y="55.10" font-size="19" font-style="italic">β</text><text x="214.46" y="85.20" font-size="19">2</text><text x="229.04" y="72.10" font-size="26">,</text><text x="245.05" y="72.10" font-size="25" font-style="italic">β</text><text x="268.09" y="74.01" font-size="26">=</text><rect x="293.59" y="63.20" width="10.57" height="2.8"/><text x="293.59" y="58.20" font-size="19"> </text><path transform="translate(293.59,58.20) scale(0.00928,-0.00928)" d="M855 0H585V1000C475 900 345 840 195 790V1030C285 1060 385 1120 475 1200C555 1270 605 1340 635 1409H855Z"/><text x="293.59" y="85.20" font-size="19">2</text></g><g transform="translate(867.5,26.2)"><use href="#ax"/><use href="#gr"/><g fill="none" stroke="#800080" stroke-width="1.1" stroke-dasharray="3.1 2.6"><ellipse cx="116.1" cy="150.4" rx="10.6" ry="70.1"/><ellipse cx="118.6" cy="171.7" rx="18.3" ry="45.3"/><ellipse cx="157.9" cy="152.1" rx="6.2" ry="30.1"/><ellipse cx="147.2" cy="232.7" rx="10.6" ry="69.3"/><ellipse cx="104.4" cy="208.8" rx="21.3" ry="33.3"/><ellipse cx="132.3" cy="152.4" rx="11.3" ry="15.1"/><ellipse cx="134.9" cy="172.0" rx="20.9" ry="25.3"/><ellipse cx="140.2" cy="172.3" rx="8.3" ry="30.3"/><ellipse cx="116.0" cy="211.1" rx="29.3" ry="25.3"/><ellipse cx="123.2" cy="191.1" rx="22.0" ry="12.3"/><ellipse cx="139.8" cy="182.4" rx="9.3" ry="40.6"/><ellipse cx="98.5" cy="204.0" rx="12.3" ry="9.3"/><ellipse cx="124.2" cy="180.2" rx="10.3" ry="14.3"/><ellipse cx="123.2" cy="195.1" rx="9.3" ry="10.3"/><ellipse cx="154.9" cy="171.6" rx="8.2" ry="23.8"/><ellipse cx="143.0" cy="173.0" rx="6.2" ry="17.3"/><ellipse cx="139.6" cy="206.6" rx="16.8" ry="16.0"/><ellipse cx="102.3" cy="195.2" rx="7.6" ry="9.2"/><ellipse cx="121.8" cy="168.7" rx="5.6" ry="21.8"/><ellipse cx="150.4" cy="186.7" rx="9.9" ry="16.3"/><ellipse cx="119.5" cy="191.4" rx="5.1" ry="28.6"/><ellipse cx="132.1" cy="184.2" rx="29.0" ry="24.4"/><ellipse cx="155.9" cy="191.8" rx="9.8" ry="7.8"/><ellipse cx="144.8" cy="192.9" rx="12.3" ry="11.0"/><ellipse cx="153.2" cy="173.3" rx="13.4" ry="4.0"/><ellipse cx="107.4" cy="191.3" rx="8.3" ry="14.3"/><ellipse cx="153.3" cy="183.9" rx="8.3" ry="20.8"/><ellipse cx="129.1" cy="194.5" rx="9.7" ry="14.1"/><ellipse cx="146.5" cy="173.8" rx="7.3" ry="16.6"/><ellipse cx="155.2" cy="211.3" rx="12.1" ry="18.1"/><ellipse cx="122.2" cy="176.0" rx="13.6" ry="12.8"/><ellipse cx="140.4" cy="184.8" rx="23.0" ry="21.3"/></g><path d="M116.1 80.6V220.2M113.3 80.6h5.6M113.3 220.2h5.6M118.6 126.7V216.7M115.8 126.7h5.6M115.8 216.7h5.6M157.9 122.3V181.9M155.1 122.3h5.6M155.1 181.9h5.6M147.2 163.7V301.7M144.4 163.7h5.6M144.4 301.7h5.6M104.4 175.8V241.8M101.6 175.8h5.6M101.6 241.8h5.6M132.3 137.6V167.2M129.5 137.6h5.6M129.5 167.2h5.6M134.9 147.0V197.0M132.1 147.0h5.6M132.1 197.0h5.6M140.2 142.3V202.3M137.4 142.3h5.6M137.4 202.3h5.6M116.0 186.1V236.1M113.2 186.1h5.6M113.2 236.1h5.6M123.2 179.1V203.1M120.4 179.1h5.6M120.4 203.1h5.6M139.8 142.1V222.7M137.0 142.1h5.6M137.0 222.7h5.6M98.5 195.0V213.0M95.7 195.0h5.6M95.7 213.0h5.6M124.2 166.2V194.2M121.4 166.2h5.6M121.4 194.2h5.6M123.2 185.1V205.1M120.4 185.1h5.6M120.4 205.1h5.6M154.9 148.1V195.1M152.1 148.1h5.6M152.1 195.1h5.6M143.0 156.0V190.0M140.2 156.0h5.6M140.2 190.0h5.6M139.6 190.9V222.3M136.8 190.9h5.6M136.8 222.3h5.6M102.3 186.3V204.1M99.5 186.3h5.6M99.5 204.1h5.6M121.8 147.2V190.2M119.0 147.2h5.6M119.0 190.2h5.6M150.4 170.7V202.7M147.6 170.7h5.6M147.6 202.7h5.6M119.5 163.1V219.7M116.7 163.1h5.6M116.7 219.7h5.6M132.1 160.1V208.3M129.3 160.1h5.6M129.3 208.3h5.6M155.9 184.3V199.3M153.1 184.3h5.6M153.1 199.3h5.6M144.8 182.2V203.6M142.0 182.2h5.6M142.0 203.6h5.6M153.2 169.6V177.0M150.4 169.6h5.6M150.4 177.0h5.6M107.4 177.3V205.3M104.6 177.3h5.6M104.6 205.3h5.6M153.3 163.4V204.4M150.5 163.4h5.6M150.5 204.4h5.6M129.1 180.7V208.3M126.3 180.7h5.6M126.3 208.3h5.6M146.5 157.5V190.1M143.7 157.5h5.6M143.7 190.1h5.6M155.2 193.5V229.1M152.4 193.5h5.6M152.4 229.1h5.6M122.2 163.5V188.5M119.4 163.5h5.6M119.4 188.5h5.6M140.4 163.8V205.8M137.6 163.8h5.6M137.6 205.8h5.6" stroke="#800080" stroke-width="1.15" fill="none"/><path d="M105.8 150.4H126.4M105.8 147.6v5.6M126.4 147.6v5.6M100.6 171.7H136.6M100.6 168.9v5.6M136.6 168.9v5.6M152.0 152.1H163.8M152.0 149.3v5.6M163.8 149.3v5.6M136.9 232.7H157.5M136.9 229.9v5.6M157.5 229.9v5.6M83.4 208.8H125.4M83.4 206.0v5.6M125.4 206.0v5.6M121.3 152.4H143.3M121.3 149.6v5.6M143.3 149.6v5.6M114.3 172.0H155.5M114.3 169.2v5.6M155.5 169.2v5.6M132.2 172.3H148.2M132.2 169.5v5.6M148.2 169.5v5.6M87.0 211.1H145.0M87.0 208.3v5.6M145.0 208.3v5.6M101.5 191.1H144.9M101.5 188.3v5.6M144.9 188.3v5.6M130.8 182.4H148.8M130.8 179.6v5.6M148.8 179.6v5.6M86.5 204.0H110.5M86.5 201.2v5.6M110.5 201.2v5.6M114.2 180.2H134.2M114.2 177.4v5.6M134.2 177.4v5.6M114.2 195.1H132.2M114.2 192.3v5.6M132.2 192.3v5.6M147.0 171.6H162.8M147.0 168.8v5.6M162.8 168.8v5.6M137.1 173.0H148.9M137.1 170.2v5.6M148.9 170.2v5.6M123.1 206.6H156.1M123.1 203.8v5.6M156.1 203.8v5.6M95.0 195.2H109.6M95.0 192.4v5.6M109.6 192.4v5.6M116.5 168.7H127.1M116.5 165.9v5.6M127.1 165.9v5.6M140.8 186.7H160.0M140.8 183.9v5.6M160.0 183.9v5.6M114.7 191.4H124.3M114.7 188.6v5.6M124.3 188.6v5.6M103.4 184.2H160.8M103.4 181.4v5.6M160.8 181.4v5.6M146.4 191.8H165.4M146.4 189.0v5.6M165.4 189.0v5.6M132.8 192.9H156.8M132.8 190.1v5.6M156.8 190.1v5.6M140.1 173.3H166.3M140.1 170.5v5.6M166.3 170.5v5.6M99.4 191.3H115.4M99.4 188.5v5.6M115.4 188.5v5.6M145.3 183.9H161.3M145.3 181.1v5.6M161.3 181.1v5.6M119.7 194.5H138.5M119.7 191.7v5.6M138.5 191.7v5.6M139.5 173.8H153.5M139.5 171.0v5.6M153.5 171.0v5.6M143.4 211.3H167.0M143.4 208.5v5.6M167.0 208.5v5.6M108.9 176.0H135.5M108.9 173.2v5.6M135.5 173.2v5.6M117.7 184.8H163.1M117.7 182.0v5.6M163.1 182.0v5.6" stroke="#800080" stroke-width="1.15" fill="none"/><path d="M116.1 150.4h0M118.6 171.7h0M157.9 152.1h0M147.2 232.7h0M104.4 208.8h0M132.3 152.4h0M134.9 172.0h0M140.2 172.3h0M116.0 211.1h0M123.2 191.1h0M139.8 182.4h0M98.5 204.0h0M124.2 180.2h0M123.2 195.1h0M154.9 171.6h0M143.0 173.0h0M139.6 206.6h0M102.3 195.2h0M121.8 168.7h0M150.4 186.7h0M119.5 191.4h0M132.1 184.2h0M155.9 191.8h0M144.8 192.9h0M153.2 173.3h0M107.4 191.3h0M153.3 183.9h0M129.1 194.5h0M146.5 173.8h0M155.2 211.3h0M122.2 176.0h0M140.4 184.8h0" stroke="#800080" stroke-width="4.4" stroke-linecap="round" fill="none"/><text x="230.40" y="32.50" font-size="22">N=32</text><path d="M96.50 205.05L128.66 192.99" stroke="#0000ff" stroke-width="1.7" fill="none"/><path d="M128.66 192.99L257.32 0.00" stroke="#ff0000" stroke-width="1.4" fill="none"/><path d="M175.5 67.8h14.8" stroke="#0000ff" stroke-width="1.8"/><text x="204.09" y="70.80" font-size="26" font-style="italic">α</text><text x="228.90" y="72.71" font-size="26">=</text><rect x="254.80" y="61.90" width="46.12" height="2.8"/><text x="254.80" y="54.90" font-size="19">3</text><text x="268.97" y="54.90" font-size="19" font-style="italic">β</text><text x="279.76" y="54.90" font-size="19">+</text><text x="290.35" y="54.90" font-size="19">5</text><text x="272.58" y="83.90" font-size="19">8</text><path d="M175.5 117.1h14.8" stroke="#ff0000" stroke-width="1.8"/><text x="204.09" y="120.10" font-size="26" font-style="italic">α</text><text x="228.90" y="122.01" font-size="26">=</text><rect x="254.80" y="111.20" width="46.12" height="2.8"/><text x="254.80" y="104.20" font-size="19">3</text><text x="268.97" y="104.20" font-size="19" font-style="italic">β</text><text x="279.76" y="104.20" font-size="19">−</text><text x="290.35" y="104.20" font-size="19"> </text><path transform="translate(290.35,104.20) scale(0.00928,-0.00928)" d="M855 0H585V1000C475 900 345 840 195 790V1030C285 1060 385 1120 475 1200C555 1270 605 1340 635 1409H855Z"/><text x="272.58" y="133.20" font-size="19">2</text></g><g transform="translate(54.5,432.2)"><use href="#ax"/><use href="#gr"/><g fill="none" stroke="#800080" stroke-width="1.1" stroke-dasharray="3.1 2.6"><ellipse cx="151.3" cy="113.4" rx="5.4" ry="18.5"/><ellipse cx="116.1" cy="150.4" rx="10.6" ry="70.1"/><ellipse cx="132.3" cy="152.4" rx="11.3" ry="15.1"/><ellipse cx="118.6" cy="171.7" rx="18.3" ry="45.3"/><ellipse cx="134.9" cy="172.0" rx="20.9" ry="25.3"/><ellipse cx="140.2" cy="172.3" rx="8.3" ry="30.3"/><ellipse cx="114.3" cy="183.0" rx="8.3" ry="8.3"/><ellipse cx="107.4" cy="191.3" rx="8.3" ry="14.3"/><ellipse cx="113.3" cy="191.1" rx="7.3" ry="9.3"/><ellipse cx="123.2" cy="191.1" rx="22.0" ry="12.3"/><ellipse cx="98.5" cy="204.0" rx="12.3" ry="9.3"/><ellipse cx="104.4" cy="208.8" rx="21.3" ry="33.3"/><ellipse cx="116.0" cy="211.1" rx="29.3" ry="25.3"/></g><path d="M151.3 95.2V131.6M148.5 95.2h5.6M148.5 131.6h5.6M116.1 80.6V220.2M113.3 80.6h5.6M113.3 220.2h5.6M132.3 137.6V167.2M129.5 137.6h5.6M129.5 167.2h5.6M118.6 126.7V216.7M115.8 126.7h5.6M115.8 216.7h5.6M134.9 147.0V197.0M132.1 147.0h5.6M132.1 197.0h5.6M140.2 142.3V202.3M137.4 142.3h5.6M137.4 202.3h5.6M114.3 175.0V191.0M111.5 175.0h5.6M111.5 191.0h5.6M107.4 177.3V205.3M104.6 177.3h5.6M104.6 205.3h5.6M113.3 182.1V200.1M110.5 182.1h5.6M110.5 200.1h5.6M123.2 179.1V203.1M120.4 179.1h5.6M120.4 203.1h5.6M98.5 195.0V213.0M95.7 195.0h5.6M95.7 213.0h5.6M104.4 175.8V241.8M101.6 175.8h5.6M101.6 241.8h5.6M116.0 186.1V236.1M113.2 186.1h5.6M113.2 236.1h5.6" stroke="#800080" stroke-width="1.15" fill="none"/><path d="M146.2 113.4H156.4M146.2 110.6v5.6M156.4 110.6v5.6M105.8 150.4H126.4M105.8 147.6v5.6M126.4 147.6v5.6M121.3 152.4H143.3M121.3 149.6v5.6M143.3 149.6v5.6M100.6 171.7H136.6M100.6 168.9v5.6M136.6 168.9v5.6M114.3 172.0H155.5M114.3 169.2v5.6M155.5 169.2v5.6M132.2 172.3H148.2M132.2 169.5v5.6M148.2 169.5v5.6M106.3 183.0H122.3M106.3 180.2v5.6M122.3 180.2v5.6M99.4 191.3H115.4M99.4 188.5v5.6M115.4 188.5v5.6M106.3 191.1H120.3M106.3 188.3v5.6M120.3 188.3v5.6M101.5 191.1H144.9M101.5 188.3v5.6M144.9 188.3v5.6M86.5 204.0H110.5M86.5 201.2v5.6M110.5 201.2v5.6M83.4 208.8H125.4M83.4 206.0v5.6M125.4 206.0v5.6M87.0 211.1H145.0M87.0 208.3v5.6M145.0 208.3v5.6" stroke="#800080" stroke-width="1.15" fill="none"/><path d="M151.3 113.4h0M116.1 150.4h0M132.3 152.4h0M118.6 171.7h0M134.9 172.0h0M140.2 172.3h0M114.3 183.0h0M107.4 191.3h0M113.3 191.1h0M123.2 191.1h0M98.5 204.0h0M104.4 208.8h0M116.0 211.1h0" stroke="#800080" stroke-width="4.4" stroke-linecap="round" fill="none"/><text x="230.40" y="32.50" font-size="22">N= 3</text><path transform="translate(259.13,32.50) scale(0.01074,-0.01074)" d="M855 0H585V1000C475 900 345 840 195 790V1030C285 1060 385 1120 475 1200C555 1270 605 1340 635 1409H855Z"/><path d="M64.33 209.07L96.50 198.35" stroke="#0000ff" stroke-width="1.7" fill="none"/><path d="M96.50 198.35L228.73 0.00" stroke="#ff0000" stroke-width="1.4" fill="none"/><path d="M143.7 68.9h14.8" stroke="#0000ff" stroke-width="1.8"/><text x="172.28" y="71.90" font-size="26" font-style="italic">α</text><text x="197.09" y="73.81" font-size="26">=</text><rect x="223.00" y="63.00" width="46.12" height="2.8"/><text x="223.00" y="56.00" font-size="19">4</text><text x="237.17" y="56.00" font-size="19" font-style="italic">β</text><text x="247.96" y="56.00" font-size="19">+</text><text x="258.55" y="56.00" font-size="19">9</text><text x="235.49" y="85.00" font-size="19"> 2</text><path transform="translate(235.49,85.00) scale(0.00928,-0.00928)" d="M855 0H585V1000C475 900 345 840 195 790V1030C285 1060 385 1120 475 1200C555 1270 605 1340 635 1409H855Z"/><path d="M143.7 116.7h14.8" stroke="#ff0000" stroke-width="1.8"/><text x="172.28" y="119.70" font-size="26" font-style="italic">α</text><text x="197.09" y="121.61" font-size="26">=</text><rect x="223.00" y="110.80" width="46.12" height="2.8"/><text x="223.00" y="103.80" font-size="19">9</text><text x="237.17" y="103.80" font-size="19" font-style="italic">β</text><text x="247.96" y="103.80" font-size="19">+</text><text x="258.55" y="103.80" font-size="19"> </text><path transform="translate(258.55,103.80) scale(0.00928,-0.00928)" d="M855 0H585V1000C475 900 345 840 195 790V1030C285 1060 385 1120 475 1200C555 1270 605 1340 635 1409H855Z"/><text x="240.78" y="132.80" font-size="19">6</text></g><g transform="translate(461.0,432.2)"><use href="#ax"/><use href="#gr"/><g fill="none" stroke="#800080" stroke-width="1.1" stroke-dasharray="3.1 2.6"><ellipse cx="97.0" cy="249.1" rx="20.3" ry="21.3"/><ellipse cx="115.7" cy="244.4" rx="36.3" ry="7.3"/></g><path d="M97.0 228.1V270.1M94.2 228.1h5.6M94.2 270.1h5.6M115.7 237.4V251.4M112.9 237.4h5.6M112.9 251.4h5.6" stroke="#800080" stroke-width="1.15" fill="none"/><path d="M77.0 249.1H117.0M77.0 246.3v5.6M117.0 246.3v5.6M79.7 244.4H151.7M79.7 241.6v5.6M151.7 241.6v5.6" stroke="#800080" stroke-width="1.15" fill="none"/><path d="M97.0 249.1h0M115.7 244.4h0" stroke="#800080" stroke-width="4.4" stroke-linecap="round" fill="none"/><text x="236.51" y="32.50" font-size="22">N=2</text><circle cx="96.50" cy="241.24" r="3.6" fill="#0000ff"/><circle cx="145.5" cy="68.9" r="3.6" fill="#0000ff"/><text x="162.88" y="72.10" font-size="26" font-style="italic">α</text><text x="187.69" y="74.01" font-size="26">=</text><rect x="213.60" y="63.20" width="12.29" height="2.8"/><text x="214.10" y="55.10" font-size="19" font-style="italic">β</text><text x="214.46" y="85.20" font-size="19">2</text><text x="229.04" y="72.10" font-size="26">,</text><text x="245.05" y="72.10" font-size="25" font-style="italic">β</text><text x="268.09" y="74.01" font-size="26">=</text><rect x="293.59" y="63.20" width="10.57" height="2.8"/><text x="293.59" y="58.20" font-size="19"> </text><path transform="translate(293.59,58.20) scale(0.00928,-0.00928)" d="M855 0H585V1000C475 900 345 840 195 790V1030C285 1060 385 1120 475 1200C555 1270 605 1340 635 1409H855Z"/><text x="293.59" y="85.20" font-size="19">2</text></g><g transform="translate(867.5,432.2)"><use href="#ax"/><use href="#gr"/><g fill="none" stroke="#800080" stroke-width="1.1" stroke-dasharray="3.1 2.6"><ellipse cx="116.1" cy="150.4" rx="10.6" ry="70.1"/><ellipse cx="118.6" cy="171.7" rx="18.3" ry="45.3"/><ellipse cx="157.9" cy="152.1" rx="6.2" ry="30.1"/><ellipse cx="147.2" cy="232.7" rx="10.6" ry="69.3"/><ellipse cx="104.4" cy="208.8" rx="21.3" ry="33.3"/><ellipse cx="132.3" cy="152.4" rx="11.3" ry="15.1"/><ellipse cx="134.9" cy="172.0" rx="20.9" ry="25.3"/><ellipse cx="140.2" cy="172.3" rx="8.3" ry="30.3"/><ellipse cx="116.0" cy="211.1" rx="29.3" ry="25.3"/><ellipse cx="123.2" cy="191.1" rx="22.0" ry="12.3"/><ellipse cx="139.8" cy="182.4" rx="9.3" ry="40.6"/><ellipse cx="98.5" cy="204.0" rx="12.3" ry="9.3"/><ellipse cx="124.2" cy="180.2" rx="10.3" ry="14.3"/><ellipse cx="123.2" cy="195.1" rx="9.3" ry="10.3"/><ellipse cx="154.9" cy="171.6" rx="8.2" ry="23.8"/><ellipse cx="143.0" cy="173.0" rx="6.2" ry="17.3"/><ellipse cx="139.6" cy="206.6" rx="16.8" ry="16.0"/><ellipse cx="102.3" cy="195.2" rx="7.6" ry="9.2"/><ellipse cx="121.8" cy="168.7" rx="5.6" ry="21.8"/><ellipse cx="150.4" cy="186.7" rx="9.9" ry="16.3"/><ellipse cx="119.5" cy="191.4" rx="5.1" ry="28.6"/><ellipse cx="132.1" cy="184.2" rx="29.0" ry="24.4"/><ellipse cx="155.9" cy="191.8" rx="9.8" ry="7.8"/><ellipse cx="144.8" cy="192.9" rx="12.3" ry="11.0"/><ellipse cx="153.2" cy="173.3" rx="13.4" ry="4.0"/><ellipse cx="107.4" cy="191.3" rx="8.3" ry="14.3"/><ellipse cx="153.3" cy="183.9" rx="8.3" ry="20.8"/><ellipse cx="129.1" cy="194.5" rx="9.7" ry="14.1"/><ellipse cx="146.5" cy="173.8" rx="7.3" ry="16.6"/><ellipse cx="155.2" cy="211.3" rx="12.1" ry="18.1"/><ellipse cx="122.2" cy="176.0" rx="13.6" ry="12.8"/><ellipse cx="140.4" cy="184.8" rx="23.0" ry="21.3"/></g><path d="M116.1 80.6V220.2M113.3 80.6h5.6M113.3 220.2h5.6M118.6 126.7V216.7M115.8 126.7h5.6M115.8 216.7h5.6M157.9 122.3V181.9M155.1 122.3h5.6M155.1 181.9h5.6M147.2 163.7V301.7M144.4 163.7h5.6M144.4 301.7h5.6M104.4 175.8V241.8M101.6 175.8h5.6M101.6 241.8h5.6M132.3 137.6V167.2M129.5 137.6h5.6M129.5 167.2h5.6M134.9 147.0V197.0M132.1 147.0h5.6M132.1 197.0h5.6M140.2 142.3V202.3M137.4 142.3h5.6M137.4 202.3h5.6M116.0 186.1V236.1M113.2 186.1h5.6M113.2 236.1h5.6M123.2 179.1V203.1M120.4 179.1h5.6M120.4 203.1h5.6M139.8 142.1V222.7M137.0 142.1h5.6M137.0 222.7h5.6M98.5 195.0V213.0M95.7 195.0h5.6M95.7 213.0h5.6M124.2 166.2V194.2M121.4 166.2h5.6M121.4 194.2h5.6M123.2 185.1V205.1M120.4 185.1h5.6M120.4 205.1h5.6M154.9 148.1V195.1M152.1 148.1h5.6M152.1 195.1h5.6M143.0 156.0V190.0M140.2 156.0h5.6M140.2 190.0h5.6M139.6 190.9V222.3M136.8 190.9h5.6M136.8 222.3h5.6M102.3 186.3V204.1M99.5 186.3h5.6M99.5 204.1h5.6M121.8 147.2V190.2M119.0 147.2h5.6M119.0 190.2h5.6M150.4 170.7V202.7M147.6 170.7h5.6M147.6 202.7h5.6M119.5 163.1V219.7M116.7 163.1h5.6M116.7 219.7h5.6M132.1 160.1V208.3M129.3 160.1h5.6M129.3 208.3h5.6M155.9 184.3V199.3M153.1 184.3h5.6M153.1 199.3h5.6M144.8 182.2V203.6M142.0 182.2h5.6M142.0 203.6h5.6M153.2 169.6V177.0M150.4 169.6h5.6M150.4 177.0h5.6M107.4 177.3V205.3M104.6 177.3h5.6M104.6 205.3h5.6M153.3 163.4V204.4M150.5 163.4h5.6M150.5 204.4h5.6M129.1 180.7V208.3M126.3 180.7h5.6M126.3 208.3h5.6M146.5 157.5V190.1M143.7 157.5h5.6M143.7 190.1h5.6M155.2 193.5V229.1M152.4 193.5h5.6M152.4 229.1h5.6M122.2 163.5V188.5M119.4 163.5h5.6M119.4 188.5h5.6M140.4 163.8V205.8M137.6 163.8h5.6M137.6 205.8h5.6" stroke="#800080" stroke-width="1.15" fill="none"/><path d="M105.8 150.4H126.4M105.8 147.6v5.6M126.4 147.6v5.6M100.6 171.7H136.6M100.6 168.9v5.6M136.6 168.9v5.6M152.0 152.1H163.8M152.0 149.3v5.6M163.8 149.3v5.6M136.9 232.7H157.5M136.9 229.9v5.6M157.5 229.9v5.6M83.4 208.8H125.4M83.4 206.0v5.6M125.4 206.0v5.6M121.3 152.4H143.3M121.3 149.6v5.6M143.3 149.6v5.6M114.3 172.0H155.5M114.3 169.2v5.6M155.5 169.2v5.6M132.2 172.3H148.2M132.2 169.5v5.6M148.2 169.5v5.6M87.0 211.1H145.0M87.0 208.3v5.6M145.0 208.3v5.6M101.5 191.1H144.9M101.5 188.3v5.6M144.9 188.3v5.6M130.8 182.4H148.8M130.8 179.6v5.6M148.8 179.6v5.6M86.5 204.0H110.5M86.5 201.2v5.6M110.5 201.2v5.6M114.2 180.2H134.2M114.2 177.4v5.6M134.2 177.4v5.6M114.2 195.1H132.2M114.2 192.3v5.6M132.2 192.3v5.6M147.0 171.6H162.8M147.0 168.8v5.6M162.8 168.8v5.6M137.1 173.0H148.9M137.1 170.2v5.6M148.9 170.2v5.6M123.1 206.6H156.1M123.1 203.8v5.6M156.1 203.8v5.6M95.0 195.2H109.6M95.0 192.4v5.6M109.6 192.4v5.6M116.5 168.7H127.1M116.5 165.9v5.6M127.1 165.9v5.6M140.8 186.7H160.0M140.8 183.9v5.6M160.0 183.9v5.6M114.7 191.4H124.3M114.7 188.6v5.6M124.3 188.6v5.6M103.4 184.2H160.8M103.4 181.4v5.6M160.8 181.4v5.6M146.4 191.8H165.4M146.4 189.0v5.6M165.4 189.0v5.6M132.8 192.9H156.8M132.8 190.1v5.6M156.8 190.1v5.6M140.1 173.3H166.3M140.1 170.5v5.6M166.3 170.5v5.6M99.4 191.3H115.4M99.4 188.5v5.6M115.4 188.5v5.6M145.3 183.9H161.3M145.3 181.1v5.6M161.3 181.1v5.6M119.7 194.5H138.5M119.7 191.7v5.6M138.5 191.7v5.6M139.5 173.8H153.5M139.5 171.0v5.6M153.5 171.0v5.6M143.4 211.3H167.0M143.4 208.5v5.6M167.0 208.5v5.6M108.9 176.0H135.5M108.9 173.2v5.6M135.5 173.2v5.6M117.7 184.8H163.1M117.7 182.0v5.6M163.1 182.0v5.6" stroke="#800080" stroke-width="1.15" fill="none"/><path d="M116.1 150.4h0M118.6 171.7h0M157.9 152.1h0M147.2 232.7h0M104.4 208.8h0M132.3 152.4h0M134.9 172.0h0M140.2 172.3h0M116.0 211.1h0M123.2 191.1h0M139.8 182.4h0M98.5 204.0h0M124.2 180.2h0M123.2 195.1h0M154.9 171.6h0M143.0 173.0h0M139.6 206.6h0M102.3 195.2h0M121.8 168.7h0M150.4 186.7h0M119.5 191.4h0M132.1 184.2h0M155.9 191.8h0M144.8 192.9h0M153.2 173.3h0M107.4 191.3h0M153.3 183.9h0M129.1 194.5h0M146.5 173.8h0M155.2 211.3h0M122.2 176.0h0M140.4 184.8h0" stroke="#800080" stroke-width="4.4" stroke-linecap="round" fill="none"/><text x="230.40" y="32.50" font-size="22">N=32</text><path d="M96.50 203.71L128.66 192.99" stroke="#0000ff" stroke-width="1.7" fill="none"/><path d="M128.66 192.99L257.32 0.00" stroke="#ff0000" stroke-width="1.4" fill="none"/><path d="M167.2 67.8h14.8" stroke="#0000ff" stroke-width="1.8"/><text x="195.78" y="70.80" font-size="26" font-style="italic">α</text><text x="220.59" y="72.71" font-size="26">=</text><rect x="246.50" y="61.90" width="32.45" height="2.8"/><text x="247.00" y="54.90" font-size="19" font-style="italic">β</text><text x="257.79" y="54.90" font-size="19">+</text><text x="268.39" y="54.90" font-size="19">2</text><text x="257.44" y="83.90" font-size="19">3</text><path d="M159.8 117.1h14.8" stroke="#ff0000" stroke-width="1.8"/><text x="188.39" y="120.10" font-size="26" font-style="italic">α</text><text x="213.20" y="122.01" font-size="26">=</text><rect x="239.10" y="111.20" width="46.12" height="2.8"/><text x="239.10" y="104.20" font-size="19">3</text><text x="253.27" y="104.20" font-size="19" font-style="italic">β</text><text x="264.06" y="104.20" font-size="19">−</text><text x="274.65" y="104.20" font-size="19"> </text><path transform="translate(274.65,104.20) scale(0.00928,-0.00928)" d="M855 0H585V1000C475 900 345 840 195 790V1030C285 1060 385 1120 475 1200C555 1270 605 1340 635 1409H855Z"/><text x="256.88" y="133.20" font-size="19">2</text></g><g transform="translate(54.5,838.1)"><use href="#ax"/><use href="#gr"/><g fill="none" stroke="#800080" stroke-width="1.1" stroke-dasharray="3.1 2.6"><ellipse cx="151.3" cy="113.4" rx="5.4" ry="18.5"/><ellipse cx="116.1" cy="150.4" rx="10.6" ry="70.1"/><ellipse cx="118.6" cy="171.7" rx="18.3" ry="45.3"/><ellipse cx="132.3" cy="152.4" rx="11.3" ry="15.1"/><ellipse cx="134.9" cy="172.0" rx="20.9" ry="25.3"/><ellipse cx="114.3" cy="183.0" rx="8.3" ry="8.3"/><ellipse cx="107.4" cy="191.3" rx="8.3" ry="14.3"/><ellipse cx="104.4" cy="208.8" rx="21.3" ry="33.3"/><ellipse cx="116.0" cy="211.1" rx="29.3" ry="25.3"/><ellipse cx="98.5" cy="192.1" rx="10.3" ry="10.3"/></g><path d="M151.3 95.2V131.6M148.5 95.2h5.6M148.5 131.6h5.6M116.1 80.6V220.2M113.3 80.6h5.6M113.3 220.2h5.6M118.6 126.7V216.7M115.8 126.7h5.6M115.8 216.7h5.6M132.3 137.6V167.2M129.5 137.6h5.6M129.5 167.2h5.6M134.9 147.0V197.0M132.1 147.0h5.6M132.1 197.0h5.6M114.3 175.0V191.0M111.5 175.0h5.6M111.5 191.0h5.6M107.4 177.3V205.3M104.6 177.3h5.6M104.6 205.3h5.6M104.4 175.8V241.8M101.6 175.8h5.6M101.6 241.8h5.6M116.0 186.1V236.1M113.2 186.1h5.6M113.2 236.1h5.6M98.5 182.1V202.1M95.7 182.1h5.6M95.7 202.1h5.6" stroke="#800080" stroke-width="1.15" fill="none"/><path d="M146.2 113.4H156.4M146.2 110.6v5.6M156.4 110.6v5.6M105.8 150.4H126.4M105.8 147.6v5.6M126.4 147.6v5.6M100.6 171.7H136.6M100.6 168.9v5.6M136.6 168.9v5.6M121.3 152.4H143.3M121.3 149.6v5.6M143.3 149.6v5.6M114.3 172.0H155.5M114.3 169.2v5.6M155.5 169.2v5.6M106.3 183.0H122.3M106.3 180.2v5.6M122.3 180.2v5.6M99.4 191.3H115.4M99.4 188.5v5.6M115.4 188.5v5.6M83.4 208.8H125.4M83.4 206.0v5.6M125.4 206.0v5.6M87.0 211.1H145.0M87.0 208.3v5.6M145.0 208.3v5.6M88.5 192.1H108.5M88.5 189.3v5.6M108.5 189.3v5.6" stroke="#800080" stroke-width="1.15" fill="none"/><path d="M151.3 113.4h0M116.1 150.4h0M118.6 171.7h0M132.3 152.4h0M134.9 172.0h0M114.3 183.0h0M107.4 191.3h0M104.4 208.8h0M116.0 211.1h0M98.5 192.1h0" stroke="#800080" stroke-width="4.4" stroke-linecap="round" fill="none"/><text x="230.40" y="32.50" font-size="22">N= 0</text><path transform="translate(259.13,32.50) scale(0.01074,-0.01074)" d="M855 0H585V1000C475 900 345 840 195 790V1030C285 1060 385 1120 475 1200C555 1270 605 1340 635 1409H855Z"/><path d="M64.33 199.42L96.50 189.77" stroke="#0000ff" stroke-width="1.7" fill="none"/><path d="M96.50 189.77L223.01 0.00" stroke="#ff0000" stroke-width="1.4" fill="none"/><path d="M143.7 68.0h14.8" stroke="#0000ff" stroke-width="1.8"/><text x="172.28" y="71.00" font-size="26" font-style="italic">α</text><text x="197.09" y="72.91" font-size="26">=</text><rect x="223.00" y="62.10" width="46.12" height="2.8"/><text x="223.00" y="55.10" font-size="19">3</text><text x="237.17" y="55.10" font-size="19" font-style="italic">β</text><text x="247.96" y="55.10" font-size="19">+</text><text x="258.55" y="55.10" font-size="19">9</text><text x="235.49" y="84.10" font-size="19"> 0</text><path transform="translate(235.49,84.10) scale(0.00928,-0.00928)" d="M855 0H585V1000C475 900 345 840 195 790V1030C285 1060 385 1120 475 1200C555 1270 605 1340 635 1409H855Z"/><path d="M138.5 116.7h14.8" stroke="#ff0000" stroke-width="1.8"/><text x="167.09" y="119.70" font-size="26" font-style="italic">α</text><text x="191.90" y="121.61" font-size="26">=</text><rect x="217.80" y="110.80" width="56.69" height="2.8"/><text x="217.80" y="103.80" font-size="19"> 5</text><path transform="translate(217.80,103.80) scale(0.00928,-0.00928)" d="M855 0H585V1000C475 900 345 840 195 790V1030C285 1060 385 1120 475 1200C555 1270 605 1340 635 1409H855Z"/><text x="242.53" y="103.80" font-size="19" font-style="italic">β</text><text x="253.33" y="103.80" font-size="19">+</text><text x="263.92" y="103.80" font-size="19">3</text><text x="235.58" y="132.80" font-size="19"> 0</text><path transform="translate(235.58,132.80) scale(0.00928,-0.00928)" d="M855 0H585V1000C475 900 345 840 195 790V1030C285 1060 385 1120 475 1200C555 1270 605 1340 635 1409H855Z"/></g><g transform="translate(461.0,838.1)"><use href="#ax"/><use href="#gr"/><g fill="none" stroke="#800080" stroke-width="1.1" stroke-dasharray="3.1 2.6"><ellipse cx="97.0" cy="249.1" rx="20.3" ry="21.3"/><ellipse cx="115.7" cy="244.4" rx="36.3" ry="7.3"/></g><path d="M97.0 228.1V270.1M94.2 228.1h5.6M94.2 270.1h5.6M115.7 237.4V251.4M112.9 237.4h5.6M112.9 251.4h5.6" stroke="#800080" stroke-width="1.15" fill="none"/><path d="M77.0 249.1H117.0M77.0 246.3v5.6M117.0 246.3v5.6M79.7 244.4H151.7M79.7 241.6v5.6M151.7 241.6v5.6" stroke="#800080" stroke-width="1.15" fill="none"/><path d="M97.0 249.1h0M115.7 244.4h0" stroke="#800080" stroke-width="4.4" stroke-linecap="round" fill="none"/><text x="236.51" y="32.50" font-size="22">N=2</text><circle cx="96.50" cy="241.24" r="3.6" fill="#0000ff"/><circle cx="145.5" cy="68.9" r="3.6" fill="#0000ff"/><text x="162.88" y="72.10" font-size="26" font-style="italic">α</text><text x="187.69" y="74.01" font-size="26">=</text><rect x="213.60" y="63.20" width="12.29" height="2.8"/><text x="214.10" y="55.10" font-size="19" font-style="italic">β</text><text x="214.46" y="85.20" font-size="19">2</text><text x="229.04" y="72.10" font-size="26">,</text><text x="245.05" y="72.10" font-size="25" font-style="italic">β</text><text x="268.09" y="74.01" font-size="26">=</text><rect x="293.59" y="63.20" width="10.57" height="2.8"/><text x="293.59" y="58.20" font-size="19"> </text><path transform="translate(293.59,58.20) scale(0.00928,-0.00928)" d="M855 0H585V1000C475 900 345 840 195 790V1030C285 1060 385 1120 475 1200C555 1270 605 1340 635 1409H855Z"/><text x="293.59" y="85.20" font-size="19">2</text></g><g transform="translate(867.5,838.1)"><use href="#ax"/><use href="#gr"/><g fill="none" stroke="#800080" stroke-width="1.1" stroke-dasharray="3.1 2.6"><ellipse cx="116.1" cy="150.4" rx="10.6" ry="70.1"/><ellipse cx="118.6" cy="171.7" rx="18.3" ry="45.3"/><ellipse cx="157.9" cy="152.1" rx="6.2" ry="30.1"/><ellipse cx="147.2" cy="232.7" rx="10.6" ry="69.3"/><ellipse cx="104.4" cy="208.8" rx="21.3" ry="33.3"/><ellipse cx="132.3" cy="152.4" rx="11.3" ry="15.1"/><ellipse cx="134.9" cy="172.0" rx="20.9" ry="25.3"/><ellipse cx="140.2" cy="172.3" rx="8.3" ry="30.3"/><ellipse cx="116.0" cy="211.1" rx="29.3" ry="25.3"/><ellipse cx="123.2" cy="191.1" rx="22.0" ry="12.3"/><ellipse cx="139.8" cy="182.4" rx="9.3" ry="40.6"/><ellipse cx="98.5" cy="204.0" rx="12.3" ry="9.3"/><ellipse cx="124.2" cy="180.2" rx="10.3" ry="14.3"/><ellipse cx="123.2" cy="195.1" rx="9.3" ry="10.3"/><ellipse cx="154.9" cy="171.6" rx="8.2" ry="23.8"/><ellipse cx="143.0" cy="173.0" rx="6.2" ry="17.3"/><ellipse cx="139.6" cy="206.6" rx="16.8" ry="16.0"/><ellipse cx="102.3" cy="195.2" rx="7.6" ry="9.2"/><ellipse cx="121.8" cy="168.7" rx="5.6" ry="21.8"/><ellipse cx="150.4" cy="186.7" rx="9.9" ry="16.3"/><ellipse cx="119.5" cy="191.4" rx="5.1" ry="28.6"/><ellipse cx="132.1" cy="184.2" rx="29.0" ry="24.4"/><ellipse cx="155.9" cy="191.8" rx="9.8" ry="7.8"/><ellipse cx="144.8" cy="192.9" rx="12.3" ry="11.0"/><ellipse cx="153.2" cy="173.3" rx="13.4" ry="4.0"/><ellipse cx="107.4" cy="191.3" rx="8.3" ry="14.3"/><ellipse cx="153.3" cy="183.9" rx="8.3" ry="20.8"/><ellipse cx="129.1" cy="194.5" rx="9.7" ry="14.1"/><ellipse cx="146.5" cy="173.8" rx="7.3" ry="16.6"/><ellipse cx="155.2" cy="211.3" rx="12.1" ry="18.1"/><ellipse cx="122.2" cy="176.0" rx="13.6" ry="12.8"/><ellipse cx="140.4" cy="184.8" rx="23.0" ry="21.3"/></g><path d="M116.1 80.6V220.2M113.3 80.6h5.6M113.3 220.2h5.6M118.6 126.7V216.7M115.8 126.7h5.6M115.8 216.7h5.6M157.9 122.3V181.9M155.1 122.3h5.6M155.1 181.9h5.6M147.2 163.7V301.7M144.4 163.7h5.6M144.4 301.7h5.6M104.4 175.8V241.8M101.6 175.8h5.6M101.6 241.8h5.6M132.3 137.6V167.2M129.5 137.6h5.6M129.5 167.2h5.6M134.9 147.0V197.0M132.1 147.0h5.6M132.1 197.0h5.6M140.2 142.3V202.3M137.4 142.3h5.6M137.4 202.3h5.6M116.0 186.1V236.1M113.2 186.1h5.6M113.2 236.1h5.6M123.2 179.1V203.1M120.4 179.1h5.6M120.4 203.1h5.6M139.8 142.1V222.7M137.0 142.1h5.6M137.0 222.7h5.6M98.5 195.0V213.0M95.7 195.0h5.6M95.7 213.0h5.6M124.2 166.2V194.2M121.4 166.2h5.6M121.4 194.2h5.6M123.2 185.1V205.1M120.4 185.1h5.6M120.4 205.1h5.6M154.9 148.1V195.1M152.1 148.1h5.6M152.1 195.1h5.6M143.0 156.0V190.0M140.2 156.0h5.6M140.2 190.0h5.6M139.6 190.9V222.3M136.8 190.9h5.6M136.8 222.3h5.6M102.3 186.3V204.1M99.5 186.3h5.6M99.5 204.1h5.6M121.8 147.2V190.2M119.0 147.2h5.6M119.0 190.2h5.6M150.4 170.7V202.7M147.6 170.7h5.6M147.6 202.7h5.6M119.5 163.1V219.7M116.7 163.1h5.6M116.7 219.7h5.6M132.1 160.1V208.3M129.3 160.1h5.6M129.3 208.3h5.6M155.9 184.3V199.3M153.1 184.3h5.6M153.1 199.3h5.6M144.8 182.2V203.6M142.0 182.2h5.6M142.0 203.6h5.6M153.2 169.6V177.0M150.4 169.6h5.6M150.4 177.0h5.6M107.4 177.3V205.3M104.6 177.3h5.6M104.6 205.3h5.6M153.3 163.4V204.4M150.5 163.4h5.6M150.5 204.4h5.6M129.1 180.7V208.3M126.3 180.7h5.6M126.3 208.3h5.6M146.5 157.5V190.1M143.7 157.5h5.6M143.7 190.1h5.6M155.2 193.5V229.1M152.4 193.5h5.6M152.4 229.1h5.6M122.2 163.5V188.5M119.4 163.5h5.6M119.4 188.5h5.6M140.4 163.8V205.8M137.6 163.8h5.6M137.6 205.8h5.6" stroke="#800080" stroke-width="1.15" fill="none"/><path d="M105.8 150.4H126.4M105.8 147.6v5.6M126.4 147.6v5.6M100.6 171.7H136.6M100.6 168.9v5.6M136.6 168.9v5.6M152.0 152.1H163.8M152.0 149.3v5.6M163.8 149.3v5.6M136.9 232.7H157.5M136.9 229.9v5.6M157.5 229.9v5.6M83.4 208.8H125.4M83.4 206.0v5.6M125.4 206.0v5.6M121.3 152.4H143.3M121.3 149.6v5.6M143.3 149.6v5.6M114.3 172.0H155.5M114.3 169.2v5.6M155.5 169.2v5.6M132.2 172.3H148.2M132.2 169.5v5.6M148.2 169.5v5.6M87.0 211.1H145.0M87.0 208.3v5.6M145.0 208.3v5.6M101.5 191.1H144.9M101.5 188.3v5.6M144.9 188.3v5.6M130.8 182.4H148.8M130.8 179.6v5.6M148.8 179.6v5.6M86.5 204.0H110.5M86.5 201.2v5.6M110.5 201.2v5.6M114.2 180.2H134.2M114.2 177.4v5.6M134.2 177.4v5.6M114.2 195.1H132.2M114.2 192.3v5.6M132.2 192.3v5.6M147.0 171.6H162.8M147.0 168.8v5.6M162.8 168.8v5.6M137.1 173.0H148.9M137.1 170.2v5.6M148.9 170.2v5.6M123.1 206.6H156.1M123.1 203.8v5.6M156.1 203.8v5.6M95.0 195.2H109.6M95.0 192.4v5.6M109.6 192.4v5.6M116.5 168.7H127.1M116.5 165.9v5.6M127.1 165.9v5.6M140.8 186.7H160.0M140.8 183.9v5.6M160.0 183.9v5.6M114.7 191.4H124.3M114.7 188.6v5.6M124.3 188.6v5.6M103.4 184.2H160.8M103.4 181.4v5.6M160.8 181.4v5.6M146.4 191.8H165.4M146.4 189.0v5.6M165.4 189.0v5.6M132.8 192.9H156.8M132.8 190.1v5.6M156.8 190.1v5.6M140.1 173.3H166.3M140.1 170.5v5.6M166.3 170.5v5.6M99.4 191.3H115.4M99.4 188.5v5.6M115.4 188.5v5.6M145.3 183.9H161.3M145.3 181.1v5.6M161.3 181.1v5.6M119.7 194.5H138.5M119.7 191.7v5.6M138.5 191.7v5.6M139.5 173.8H153.5M139.5 171.0v5.6M153.5 171.0v5.6M143.4 211.3H167.0M143.4 208.5v5.6M167.0 208.5v5.6M108.9 176.0H135.5M108.9 173.2v5.6M135.5 173.2v5.6M117.7 184.8H163.1M117.7 182.0v5.6M163.1 182.0v5.6" stroke="#800080" stroke-width="1.15" fill="none"/><path d="M116.1 150.4h0M118.6 171.7h0M157.9 152.1h0M147.2 232.7h0M104.4 208.8h0M132.3 152.4h0M134.9 172.0h0M140.2 172.3h0M116.0 211.1h0M123.2 191.1h0M139.8 182.4h0M98.5 204.0h0M124.2 180.2h0M123.2 195.1h0M154.9 171.6h0M143.0 173.0h0M139.6 206.6h0M102.3 195.2h0M121.8 168.7h0M150.4 186.7h0M119.5 191.4h0M132.1 184.2h0M155.9 191.8h0M144.8 192.9h0M153.2 173.3h0M107.4 191.3h0M153.3 183.9h0M129.1 194.5h0M146.5 173.8h0M155.2 211.3h0M122.2 176.0h0M140.4 184.8h0" stroke="#800080" stroke-width="4.4" stroke-linecap="round" fill="none"/><text x="230.40" y="32.50" font-size="22">N=32</text><path d="M96.50 202.64L128.66 192.99" stroke="#0000ff" stroke-width="1.7" fill="none"/><path d="M128.66 192.99L257.32 0.00" stroke="#ff0000" stroke-width="1.4" fill="none"/><path d="M159.8 67.9h14.8" stroke="#0000ff" stroke-width="1.8"/><text x="188.39" y="70.90" font-size="26" font-style="italic">α</text><text x="213.20" y="72.81" font-size="26">=</text><rect x="239.10" y="62.00" width="46.12" height="2.8"/><text x="239.10" y="55.00" font-size="19">3</text><text x="253.27" y="55.00" font-size="19" font-style="italic">β</text><text x="264.06" y="55.00" font-size="19">+</text><text x="274.65" y="55.00" font-size="19">7</text><text x="251.59" y="84.00" font-size="19"> 0</text><path transform="translate(251.59,84.00) scale(0.00928,-0.00928)" d="M855 0H585V1000C475 900 345 840 195 790V1030C285 1060 385 1120 475 1200C555 1270 605 1340 635 1409H855Z"/><path d="M159.8 117.1h14.8" stroke="#ff0000" stroke-width="1.8"/><text x="188.39" y="120.10" font-size="26" font-style="italic">α</text><text x="213.20" y="122.01" font-size="26">=</text><rect x="239.10" y="111.20" width="46.12" height="2.8"/><text x="239.10" y="104.20" font-size="19">3</text><text x="253.27" y="104.20" font-size="19" font-style="italic">β</text><text x="264.06" y="104.20" font-size="19">−</text><text x="274.65" y="104.20" font-size="19"> </text><path transform="translate(274.65,104.20) scale(0.00928,-0.00928)" d="M855 0H585V1000C475 900 345 840 195 790V1030C285 1060 385 1120 475 1200C555 1270 605 1340 635 1409H855Z"/><text x="256.88" y="133.20" font-size="19">2</text></g><g transform="translate(54.5,1244.1)"><use href="#ax"/><use href="#gr"/><g fill="none" stroke="#800080" stroke-width="1.1" stroke-dasharray="3.1 2.6"><ellipse cx="151.3" cy="113.4" rx="5.4" ry="18.5"/><ellipse cx="88.6" cy="170.6" rx="16.8" ry="13.1"/><ellipse cx="116.0" cy="136.5" rx="8.8" ry="4.3"/><ellipse cx="116.1" cy="150.4" rx="10.6" ry="70.1"/><ellipse cx="118.6" cy="171.7" rx="18.3" ry="45.3"/></g><path d="M151.3 95.2V131.6M148.5 95.2h5.6M148.5 131.6h5.6M88.6 157.8V183.4M85.8 157.8h5.6M85.8 183.4h5.6M116.0 132.5V140.5M113.2 132.5h5.6M113.2 140.5h5.6M116.1 80.6V220.2M113.3 80.6h5.6M113.3 220.2h5.6M118.6 126.7V216.7M115.8 126.7h5.6M115.8 216.7h5.6" stroke="#800080" stroke-width="1.15" fill="none"/><path d="M146.2 113.4H156.4M146.2 110.6v5.6M156.4 110.6v5.6M72.1 170.6H105.1M72.1 167.8v5.6M105.1 167.8v5.6M107.5 136.5H124.5M107.5 133.7v5.6M124.5 133.7v5.6M105.8 150.4H126.4M105.8 147.6v5.6M126.4 147.6v5.6M100.6 171.7H136.6M100.6 168.9v5.6M136.6 168.9v5.6" stroke="#800080" stroke-width="1.15" fill="none"/><path d="M151.3 113.4h0M88.6 170.6h0M116.0 136.5h0M116.1 150.4h0M118.6 171.7h0" stroke="#800080" stroke-width="4.4" stroke-linecap="round" fill="none"/><text x="236.51" y="32.50" font-size="22">N=6</text><path d="M64.33 184.95L96.50 176.91" stroke="#0000ff" stroke-width="1.7" fill="none"/><path d="M96.50 176.91L214.43 0.00" stroke="#ff0000" stroke-width="1.4" fill="none"/><path d="M143.7 68.0h14.8" stroke="#0000ff" stroke-width="1.8"/><text x="172.28" y="71.00" font-size="26" font-style="italic">α</text><text x="197.09" y="72.91" font-size="26">=</text><rect x="223.00" y="62.10" width="46.12" height="2.8"/><text x="223.00" y="55.10" font-size="19">2</text><text x="237.17" y="55.10" font-size="19" font-style="italic">β</text><text x="247.96" y="55.10" font-size="19">+</text><text x="258.55" y="55.10" font-size="19">9</text><text x="240.78" y="84.10" font-size="19">8</text><path d="M143.7 117.2h14.8" stroke="#ff0000" stroke-width="1.8"/><text x="172.28" y="120.20" font-size="26" font-style="italic">α</text><text x="197.09" y="122.11" font-size="26">=</text><rect x="223.00" y="111.30" width="46.12" height="2.8"/><text x="223.00" y="104.30" font-size="19">3</text><text x="237.17" y="104.30" font-size="19" font-style="italic">β</text><text x="247.96" y="104.30" font-size="19">+</text><text x="258.55" y="104.30" font-size="19"> </text><path transform="translate(258.55,104.30) scale(0.00928,-0.00928)" d="M855 0H585V1000C475 900 345 840 195 790V1030C285 1060 385 1120 475 1200C555 1270 605 1340 635 1409H855Z"/><text x="240.78" y="133.30" font-size="19">2</text></g><g transform="translate(461.0,1244.1)"><use href="#ax"/><use href="#gr"/><g fill="none" stroke="#800080" stroke-width="1.1" stroke-dasharray="3.1 2.6"><ellipse cx="97.0" cy="249.1" rx="20.3" ry="21.3"/><ellipse cx="115.7" cy="244.4" rx="36.3" ry="7.3"/></g><path d="M97.0 228.1V270.1M94.2 228.1h5.6M94.2 270.1h5.6M115.7 237.4V251.4M112.9 237.4h5.6M112.9 251.4h5.6" stroke="#800080" stroke-width="1.15" fill="none"/><path d="M77.0 249.1H117.0M77.0 246.3v5.6M117.0 246.3v5.6M79.7 244.4H151.7M79.7 241.6v5.6M151.7 241.6v5.6" stroke="#800080" stroke-width="1.15" fill="none"/><path d="M97.0 249.1h0M115.7 244.4h0" stroke="#800080" stroke-width="4.4" stroke-linecap="round" fill="none"/><text x="236.51" y="32.50" font-size="22">N=2</text><circle cx="96.50" cy="241.24" r="3.6" fill="#0000ff"/><circle cx="145.5" cy="68.9" r="3.6" fill="#0000ff"/><text x="162.88" y="72.10" font-size="26" font-style="italic">α</text><text x="187.69" y="74.01" font-size="26">=</text><rect x="213.60" y="63.20" width="12.29" height="2.8"/><text x="214.10" y="55.10" font-size="19" font-style="italic">β</text><text x="214.46" y="85.20" font-size="19">2</text><text x="229.04" y="72.10" font-size="26">,</text><text x="245.05" y="72.10" font-size="25" font-style="italic">β</text><text x="268.09" y="74.01" font-size="26">=</text><rect x="293.59" y="63.20" width="10.57" height="2.8"/><text x="293.59" y="58.20" font-size="19"> </text><path transform="translate(293.59,58.20) scale(0.00928,-0.00928)" d="M855 0H585V1000C475 900 345 840 195 790V1030C285 1060 385 1120 475 1200C555 1270 605 1340 635 1409H855Z"/><text x="293.59" y="85.20" font-size="19">2</text></g><g transform="translate(867.5,1244.1)"><use href="#ax"/><use href="#gr"/><g fill="none" stroke="#800080" stroke-width="1.1" stroke-dasharray="3.1 2.6"><ellipse cx="116.1" cy="150.4" rx="10.6" ry="70.1"/><ellipse cx="118.6" cy="171.7" rx="18.3" ry="45.3"/><ellipse cx="157.9" cy="152.1" rx="6.2" ry="30.1"/><ellipse cx="147.2" cy="232.7" rx="10.6" ry="69.3"/><ellipse cx="104.4" cy="208.8" rx="21.3" ry="33.3"/><ellipse cx="132.3" cy="152.4" rx="11.3" ry="15.1"/><ellipse cx="134.9" cy="172.0" rx="20.9" ry="25.3"/><ellipse cx="140.2" cy="172.3" rx="8.3" ry="30.3"/><ellipse cx="116.0" cy="211.1" rx="29.3" ry="25.3"/><ellipse cx="123.2" cy="191.1" rx="22.0" ry="12.3"/><ellipse cx="139.8" cy="182.4" rx="9.3" ry="40.6"/><ellipse cx="98.5" cy="204.0" rx="12.3" ry="9.3"/><ellipse cx="124.2" cy="180.2" rx="10.3" ry="14.3"/><ellipse cx="123.2" cy="195.1" rx="9.3" ry="10.3"/><ellipse cx="154.9" cy="171.6" rx="8.2" ry="23.8"/><ellipse cx="143.0" cy="173.0" rx="6.2" ry="17.3"/><ellipse cx="139.6" cy="206.6" rx="16.8" ry="16.0"/><ellipse cx="102.3" cy="195.2" rx="7.6" ry="9.2"/><ellipse cx="121.8" cy="168.7" rx="5.6" ry="21.8"/><ellipse cx="150.4" cy="186.7" rx="9.9" ry="16.3"/><ellipse cx="119.5" cy="191.4" rx="5.1" ry="28.6"/><ellipse cx="132.1" cy="184.2" rx="29.0" ry="24.4"/><ellipse cx="155.9" cy="191.8" rx="9.8" ry="7.8"/><ellipse cx="144.8" cy="192.9" rx="12.3" ry="11.0"/><ellipse cx="153.2" cy="173.3" rx="13.4" ry="4.0"/><ellipse cx="107.4" cy="191.3" rx="8.3" ry="14.3"/><ellipse cx="153.3" cy="183.9" rx="8.3" ry="20.8"/><ellipse cx="129.1" cy="194.5" rx="9.7" ry="14.1"/><ellipse cx="146.5" cy="173.8" rx="7.3" ry="16.6"/><ellipse cx="155.2" cy="211.3" rx="12.1" ry="18.1"/><ellipse cx="122.2" cy="176.0" rx="13.6" ry="12.8"/><ellipse cx="140.4" cy="184.8" rx="23.0" ry="21.3"/></g><path d="M116.1 80.6V220.2M113.3 80.6h5.6M113.3 220.2h5.6M118.6 126.7V216.7M115.8 126.7h5.6M115.8 216.7h5.6M157.9 122.3V181.9M155.1 122.3h5.6M155.1 181.9h5.6M147.2 163.7V301.7M144.4 163.7h5.6M144.4 301.7h5.6M104.4 175.8V241.8M101.6 175.8h5.6M101.6 241.8h5.6M132.3 137.6V167.2M129.5 137.6h5.6M129.5 167.2h5.6M134.9 147.0V197.0M132.1 147.0h5.6M132.1 197.0h5.6M140.2 142.3V202.3M137.4 142.3h5.6M137.4 202.3h5.6M116.0 186.1V236.1M113.2 186.1h5.6M113.2 236.1h5.6M123.2 179.1V203.1M120.4 179.1h5.6M120.4 203.1h5.6M139.8 142.1V222.7M137.0 142.1h5.6M137.0 222.7h5.6M98.5 195.0V213.0M95.7 195.0h5.6M95.7 213.0h5.6M124.2 166.2V194.2M121.4 166.2h5.6M121.4 194.2h5.6M123.2 185.1V205.1M120.4 185.1h5.6M120.4 205.1h5.6M154.9 148.1V195.1M152.1 148.1h5.6M152.1 195.1h5.6M143.0 156.0V190.0M140.2 156.0h5.6M140.2 190.0h5.6M139.6 190.9V222.3M136.8 190.9h5.6M136.8 222.3h5.6M102.3 186.3V204.1M99.5 186.3h5.6M99.5 204.1h5.6M121.8 147.2V190.2M119.0 147.2h5.6M119.0 190.2h5.6M150.4 170.7V202.7M147.6 170.7h5.6M147.6 202.7h5.6M119.5 163.1V219.7M116.7 163.1h5.6M116.7 219.7h5.6M132.1 160.1V208.3M129.3 160.1h5.6M129.3 208.3h5.6M155.9 184.3V199.3M153.1 184.3h5.6M153.1 199.3h5.6M144.8 182.2V203.6M142.0 182.2h5.6M142.0 203.6h5.6M153.2 169.6V177.0M150.4 169.6h5.6M150.4 177.0h5.6M107.4 177.3V205.3M104.6 177.3h5.6M104.6 205.3h5.6M153.3 163.4V204.4M150.5 163.4h5.6M150.5 204.4h5.6M129.1 180.7V208.3M126.3 180.7h5.6M126.3 208.3h5.6M146.5 157.5V190.1M143.7 157.5h5.6M143.7 190.1h5.6M155.2 193.5V229.1M152.4 193.5h5.6M152.4 229.1h5.6M122.2 163.5V188.5M119.4 163.5h5.6M119.4 188.5h5.6M140.4 163.8V205.8M137.6 163.8h5.6M137.6 205.8h5.6" stroke="#800080" stroke-width="1.15" fill="none"/><path d="M105.8 150.4H126.4M105.8 147.6v5.6M126.4 147.6v5.6M100.6 171.7H136.6M100.6 168.9v5.6M136.6 168.9v5.6M152.0 152.1H163.8M152.0 149.3v5.6M163.8 149.3v5.6M136.9 232.7H157.5M136.9 229.9v5.6M157.5 229.9v5.6M83.4 208.8H125.4M83.4 206.0v5.6M125.4 206.0v5.6M121.3 152.4H143.3M121.3 149.6v5.6M143.3 149.6v5.6M114.3 172.0H155.5M114.3 169.2v5.6M155.5 169.2v5.6M132.2 172.3H148.2M132.2 169.5v5.6M148.2 169.5v5.6M87.0 211.1H145.0M87.0 208.3v5.6M145.0 208.3v5.6M101.5 191.1H144.9M101.5 188.3v5.6M144.9 188.3v5.6M130.8 182.4H148.8M130.8 179.6v5.6M148.8 179.6v5.6M86.5 204.0H110.5M86.5 201.2v5.6M110.5 201.2v5.6M114.2 180.2H134.2M114.2 177.4v5.6M134.2 177.4v5.6M114.2 195.1H132.2M114.2 192.3v5.6M132.2 192.3v5.6M147.0 171.6H162.8M147.0 168.8v5.6M162.8 168.8v5.6M137.1 173.0H148.9M137.1 170.2v5.6M148.9 170.2v5.6M123.1 206.6H156.1M123.1 203.8v5.6M156.1 203.8v5.6M95.0 195.2H109.6M95.0 192.4v5.6M109.6 192.4v5.6M116.5 168.7H127.1M116.5 165.9v5.6M127.1 165.9v5.6M140.8 186.7H160.0M140.8 183.9v5.6M160.0 183.9v5.6M114.7 191.4H124.3M114.7 188.6v5.6M124.3 188.6v5.6M103.4 184.2H160.8M103.4 181.4v5.6M160.8 181.4v5.6M146.4 191.8H165.4M146.4 189.0v5.6M165.4 189.0v5.6M132.8 192.9H156.8M132.8 190.1v5.6M156.8 190.1v5.6M140.1 173.3H166.3M140.1 170.5v5.6M166.3 170.5v5.6M99.4 191.3H115.4M99.4 188.5v5.6M115.4 188.5v5.6M145.3 183.9H161.3M145.3 181.1v5.6M161.3 181.1v5.6M119.7 194.5H138.5M119.7 191.7v5.6M138.5 191.7v5.6M139.5 173.8H153.5M139.5 171.0v5.6M153.5 171.0v5.6M143.4 211.3H167.0M143.4 208.5v5.6M167.0 208.5v5.6M108.9 176.0H135.5M108.9 173.2v5.6M135.5 173.2v5.6M117.7 184.8H163.1M117.7 182.0v5.6M163.1 182.0v5.6" stroke="#800080" stroke-width="1.15" fill="none"/><path d="M116.1 150.4h0M118.6 171.7h0M157.9 152.1h0M147.2 232.7h0M104.4 208.8h0M132.3 152.4h0M134.9 172.0h0M140.2 172.3h0M116.0 211.1h0M123.2 191.1h0M139.8 182.4h0M98.5 204.0h0M124.2 180.2h0M123.2 195.1h0M154.9 171.6h0M143.0 173.0h0M139.6 206.6h0M102.3 195.2h0M121.8 168.7h0M150.4 186.7h0M119.5 191.4h0M132.1 184.2h0M155.9 191.8h0M144.8 192.9h0M153.2 173.3h0M107.4 191.3h0M153.3 183.9h0M129.1 194.5h0M146.5 173.8h0M155.2 211.3h0M122.2 176.0h0M140.4 184.8h0" stroke="#800080" stroke-width="4.4" stroke-linecap="round" fill="none"/><text x="230.40" y="32.50" font-size="22">N=32</text><path d="M96.50 201.03L128.66 192.99" stroke="#0000ff" stroke-width="1.7" fill="none"/><path d="M128.66 192.99L257.32 0.00" stroke="#ff0000" stroke-width="1.4" fill="none"/><path d="M167.2 68.8h14.8" stroke="#0000ff" stroke-width="1.8"/><text x="195.78" y="71.80" font-size="26" font-style="italic">α</text><text x="220.59" y="73.71" font-size="26">=</text><rect x="246.50" y="62.90" width="32.45" height="2.8"/><text x="247.00" y="55.90" font-size="19" font-style="italic">β</text><text x="257.79" y="55.90" font-size="19">+</text><text x="268.39" y="55.90" font-size="19">3</text><text x="257.44" y="84.90" font-size="19">4</text><path d="M159.8 117.1h14.8" stroke="#ff0000" stroke-width="1.8"/><text x="188.39" y="120.10" font-size="26" font-style="italic">α</text><text x="213.20" y="122.01" font-size="26">=</text><rect x="239.10" y="111.20" width="46.12" height="2.8"/><text x="239.10" y="104.20" font-size="19">3</text><text x="253.27" y="104.20" font-size="19" font-style="italic">β</text><text x="264.06" y="104.20" font-size="19">−</text><text x="274.65" y="104.20" font-size="19"> </text><path transform="translate(274.65,104.20) scale(0.00928,-0.00928)" d="M855 0H585V1000C475 900 345 840 195 790V1030C285 1060 385 1120 475 1200C555 1270 605 1340 635 1409H855Z"/><text x="256.88" y="133.20" font-size="19">2</text></g><g transform="translate(54.5,1650.1)"><use href="#ax"/><use href="#gr"/><g fill="none" stroke="#800080" stroke-width="1.1" stroke-dasharray="3.1 2.6"><ellipse cx="143.4" cy="51.5" rx="7.0" ry="36.7"/><ellipse cx="116.0" cy="136.5" rx="8.8" ry="4.3"/><ellipse cx="116.1" cy="150.4" rx="10.6" ry="70.1"/><ellipse cx="118.6" cy="171.7" rx="18.3" ry="45.3"/></g><path d="M143.4 15.1V87.9M140.6 15.1h5.6M140.6 87.9h5.6M116.0 132.5V140.5M113.2 132.5h5.6M113.2 140.5h5.6M116.1 80.6V220.2M113.3 80.6h5.6M113.3 220.2h5.6M118.6 126.7V216.7M115.8 126.7h5.6M115.8 216.7h5.6" stroke="#800080" stroke-width="1.15" fill="none"/><path d="M136.7 51.5H150.1M136.7 48.7v5.6M150.1 48.7v5.6M107.5 136.5H124.5M107.5 133.7v5.6M124.5 133.7v5.6M105.8 150.4H126.4M105.8 147.6v5.6M126.4 147.6v5.6M100.6 171.7H136.6M100.6 168.9v5.6M136.6 168.9v5.6" stroke="#800080" stroke-width="1.15" fill="none"/><path d="M143.4 51.5h0M116.0 136.5h0M116.1 150.4h0M118.6 171.7h0" stroke="#800080" stroke-width="4.4" stroke-linecap="round" fill="none"/><text x="236.51" y="32.50" font-size="22">N=4</text><path d="M64.33 160.82L96.50 155.46" stroke="#0000ff" stroke-width="1.7" fill="none"/><path d="M96.50 155.46L200.14 0.00" stroke="#ff0000" stroke-width="1.4" fill="none"/><path d="M151.1 68.0h14.8" stroke="#0000ff" stroke-width="1.8"/><text x="179.69" y="71.00" font-size="26" font-style="italic">α</text><text x="204.50" y="72.91" font-size="26">=</text><rect x="230.40" y="62.10" width="32.45" height="2.8"/><text x="230.90" y="55.10" font-size="19" font-style="italic">β</text><text x="241.69" y="55.10" font-size="19">+</text><text x="252.29" y="55.10" font-size="19">9</text><text x="241.34" y="84.10" font-size="19">6</text><path d="M143.7 116.9h14.8" stroke="#ff0000" stroke-width="1.8"/><text x="172.28" y="119.90" font-size="26" font-style="italic">α</text><text x="197.09" y="121.81" font-size="26">=</text><rect x="223.00" y="111.00" width="46.12" height="2.8"/><text x="223.00" y="104.00" font-size="19">9</text><text x="237.17" y="104.00" font-size="19" font-style="italic">β</text><text x="247.96" y="104.00" font-size="19">+</text><text x="258.55" y="104.00" font-size="19">5</text><text x="240.78" y="133.00" font-size="19">6</text></g><g transform="translate(461.0,1650.1)"><use href="#ax"/><use href="#gr"/><g fill="none" stroke="#800080" stroke-width="1.1" stroke-dasharray="3.1 2.6"><ellipse cx="97.0" cy="249.1" rx="20.3" ry="21.3"/><ellipse cx="115.7" cy="244.4" rx="36.3" ry="7.3"/></g><path d="M97.0 228.1V270.1M94.2 228.1h5.6M94.2 270.1h5.6M115.7 237.4V251.4M112.9 237.4h5.6M112.9 251.4h5.6" stroke="#800080" stroke-width="1.15" fill="none"/><path d="M77.0 249.1H117.0M77.0 246.3v5.6M117.0 246.3v5.6M79.7 244.4H151.7M79.7 241.6v5.6M151.7 241.6v5.6" stroke="#800080" stroke-width="1.15" fill="none"/><path d="M97.0 249.1h0M115.7 244.4h0" stroke="#800080" stroke-width="4.4" stroke-linecap="round" fill="none"/><text x="236.51" y="32.50" font-size="22">N=2</text><circle cx="96.50" cy="241.24" r="3.6" fill="#0000ff"/><circle cx="145.5" cy="68.9" r="3.6" fill="#0000ff"/><text x="162.88" y="72.10" font-size="26" font-style="italic">α</text><text x="187.69" y="74.01" font-size="26">=</text><rect x="213.60" y="63.20" width="12.29" height="2.8"/><text x="214.10" y="55.10" font-size="19" font-style="italic">β</text><text x="214.46" y="85.20" font-size="19">2</text><text x="229.04" y="72.10" font-size="26">,</text><text x="245.05" y="72.10" font-size="25" font-style="italic">β</text><text x="268.09" y="74.01" font-size="26">=</text><rect x="293.59" y="63.20" width="10.57" height="2.8"/><text x="293.59" y="58.20" font-size="19"> </text><path transform="translate(293.59,58.20) scale(0.00928,-0.00928)" d="M855 0H585V1000C475 900 345 840 195 790V1030C285 1060 385 1120 475 1200C555 1270 605 1340 635 1409H855Z"/><text x="293.59" y="85.20" font-size="19">2</text></g><g transform="translate(867.5,1650.1)"><use href="#ax"/><use href="#gr"/><g fill="none" stroke="#800080" stroke-width="1.1" stroke-dasharray="3.1 2.6"><ellipse cx="116.1" cy="150.4" rx="10.6" ry="70.1"/><ellipse cx="118.6" cy="171.7" rx="18.3" ry="45.3"/><ellipse cx="157.9" cy="152.1" rx="6.2" ry="30.1"/><ellipse cx="147.2" cy="232.7" rx="10.6" ry="69.3"/><ellipse cx="104.4" cy="208.8" rx="21.3" ry="33.3"/><ellipse cx="132.3" cy="152.4" rx="11.3" ry="15.1"/><ellipse cx="134.9" cy="172.0" rx="20.9" ry="25.3"/><ellipse cx="140.2" cy="172.3" rx="8.3" ry="30.3"/><ellipse cx="116.0" cy="211.1" rx="29.3" ry="25.3"/><ellipse cx="123.2" cy="191.1" rx="22.0" ry="12.3"/><ellipse cx="139.8" cy="182.4" rx="9.3" ry="40.6"/><ellipse cx="98.5" cy="204.0" rx="12.3" ry="9.3"/><ellipse cx="124.2" cy="180.2" rx="10.3" ry="14.3"/><ellipse cx="123.2" cy="195.1" rx="9.3" ry="10.3"/><ellipse cx="154.9" cy="171.6" rx="8.2" ry="23.8"/><ellipse cx="143.0" cy="173.0" rx="6.2" ry="17.3"/><ellipse cx="139.6" cy="206.6" rx="16.8" ry="16.0"/><ellipse cx="102.3" cy="195.2" rx="7.6" ry="9.2"/><ellipse cx="121.8" cy="168.7" rx="5.6" ry="21.8"/><ellipse cx="150.4" cy="186.7" rx="9.9" ry="16.3"/><ellipse cx="119.5" cy="191.4" rx="5.1" ry="28.6"/><ellipse cx="132.1" cy="184.2" rx="29.0" ry="24.4"/><ellipse cx="155.9" cy="191.8" rx="9.8" ry="7.8"/><ellipse cx="144.8" cy="192.9" rx="12.3" ry="11.0"/><ellipse cx="153.2" cy="173.3" rx="13.4" ry="4.0"/><ellipse cx="107.4" cy="191.3" rx="8.3" ry="14.3"/><ellipse cx="153.3" cy="183.9" rx="8.3" ry="20.8"/><ellipse cx="129.1" cy="194.5" rx="9.7" ry="14.1"/><ellipse cx="146.5" cy="173.8" rx="7.3" ry="16.6"/><ellipse cx="155.2" cy="211.3" rx="12.1" ry="18.1"/><ellipse cx="122.2" cy="176.0" rx="13.6" ry="12.8"/></g><path d="M116.1 80.6V220.2M113.3 80.6h5.6M113.3 220.2h5.6M118.6 126.7V216.7M115.8 126.7h5.6M115.8 216.7h5.6M157.9 122.3V181.9M155.1 122.3h5.6M155.1 181.9h5.6M147.2 163.7V301.7M144.4 163.7h5.6M144.4 301.7h5.6M104.4 175.8V241.8M101.6 175.8h5.6M101.6 241.8h5.6M132.3 137.6V167.2M129.5 137.6h5.6M129.5 167.2h5.6M134.9 147.0V197.0M132.1 147.0h5.6M132.1 197.0h5.6M140.2 142.3V202.3M137.4 142.3h5.6M137.4 202.3h5.6M116.0 186.1V236.1M113.2 186.1h5.6M113.2 236.1h5.6M123.2 179.1V203.1M120.4 179.1h5.6M120.4 203.1h5.6M139.8 142.1V222.7M137.0 142.1h5.6M137.0 222.7h5.6M98.5 195.0V213.0M95.7 195.0h5.6M95.7 213.0h5.6M124.2 166.2V194.2M121.4 166.2h5.6M121.4 194.2h5.6M123.2 185.1V205.1M120.4 185.1h5.6M120.4 205.1h5.6M154.9 148.1V195.1M152.1 148.1h5.6M152.1 195.1h5.6M143.0 156.0V190.0M140.2 156.0h5.6M140.2 190.0h5.6M139.6 190.9V222.3M136.8 190.9h5.6M136.8 222.3h5.6M102.3 186.3V204.1M99.5 186.3h5.6M99.5 204.1h5.6M121.8 147.2V190.2M119.0 147.2h5.6M119.0 190.2h5.6M150.4 170.7V202.7M147.6 170.7h5.6M147.6 202.7h5.6M119.5 163.1V219.7M116.7 163.1h5.6M116.7 219.7h5.6M132.1 160.1V208.3M129.3 160.1h5.6M129.3 208.3h5.6M155.9 184.3V199.3M153.1 184.3h5.6M153.1 199.3h5.6M144.8 182.2V203.6M142.0 182.2h5.6M142.0 203.6h5.6M153.2 169.6V177.0M150.4 169.6h5.6M150.4 177.0h5.6M107.4 177.3V205.3M104.6 177.3h5.6M104.6 205.3h5.6M153.3 163.4V204.4M150.5 163.4h5.6M150.5 204.4h5.6M129.1 180.7V208.3M126.3 180.7h5.6M126.3 208.3h5.6M146.5 157.5V190.1M143.7 157.5h5.6M143.7 190.1h5.6M155.2 193.5V229.1M152.4 193.5h5.6M152.4 229.1h5.6M122.2 163.5V188.5M119.4 163.5h5.6M119.4 188.5h5.6" stroke="#800080" stroke-width="1.15" fill="none"/><path d="M105.8 150.4H126.4M105.8 147.6v5.6M126.4 147.6v5.6M100.6 171.7H136.6M100.6 168.9v5.6M136.6 168.9v5.6M152.0 152.1H163.8M152.0 149.3v5.6M163.8 149.3v5.6M136.9 232.7H157.5M136.9 229.9v5.6M157.5 229.9v5.6M83.4 208.8H125.4M83.4 206.0v5.6M125.4 206.0v5.6M121.3 152.4H143.3M121.3 149.6v5.6M143.3 149.6v5.6M114.3 172.0H155.5M114.3 169.2v5.6M155.5 169.2v5.6M132.2 172.3H148.2M132.2 169.5v5.6M148.2 169.5v5.6M87.0 211.1H145.0M87.0 208.3v5.6M145.0 208.3v5.6M101.5 191.1H144.9M101.5 188.3v5.6M144.9 188.3v5.6M130.8 182.4H148.8M130.8 179.6v5.6M148.8 179.6v5.6M86.5 204.0H110.5M86.5 201.2v5.6M110.5 201.2v5.6M114.2 180.2H134.2M114.2 177.4v5.6M134.2 177.4v5.6M114.2 195.1H132.2M114.2 192.3v5.6M132.2 192.3v5.6M147.0 171.6H162.8M147.0 168.8v5.6M162.8 168.8v5.6M137.1 173.0H148.9M137.1 170.2v5.6M148.9 170.2v5.6M123.1 206.6H156.1M123.1 203.8v5.6M156.1 203.8v5.6M95.0 195.2H109.6M95.0 192.4v5.6M109.6 192.4v5.6M116.5 168.7H127.1M116.5 165.9v5.6M127.1 165.9v5.6M140.8 186.7H160.0M140.8 183.9v5.6M160.0 183.9v5.6M114.7 191.4H124.3M114.7 188.6v5.6M124.3 188.6v5.6M103.4 184.2H160.8M103.4 181.4v5.6M160.8 181.4v5.6M146.4 191.8H165.4M146.4 189.0v5.6M165.4 189.0v5.6M132.8 192.9H156.8M132.8 190.1v5.6M156.8 190.1v5.6M140.1 173.3H166.3M140.1 170.5v5.6M166.3 170.5v5.6M99.4 191.3H115.4M99.4 188.5v5.6M115.4 188.5v5.6M145.3 183.9H161.3M145.3 181.1v5.6M161.3 181.1v5.6M119.7 194.5H138.5M119.7 191.7v5.6M138.5 191.7v5.6M139.5 173.8H153.5M139.5 171.0v5.6M153.5 171.0v5.6M143.4 211.3H167.0M143.4 208.5v5.6M167.0 208.5v5.6M108.9 176.0H135.5M108.9 173.2v5.6M135.5 173.2v5.6" stroke="#800080" stroke-width="1.15" fill="none"/><path d="M116.1 150.4h0M118.6 171.7h0M157.9 152.1h0M147.2 232.7h0M104.4 208.8h0M132.3 152.4h0M134.9 172.0h0M140.2 172.3h0M116.0 211.1h0M123.2 191.1h0M139.8 182.4h0M98.5 204.0h0M124.2 180.2h0M123.2 195.1h0M154.9 171.6h0M143.0 173.0h0M139.6 206.6h0M102.3 195.2h0M121.8 168.7h0M150.4 186.7h0M119.5 191.4h0M132.1 184.2h0M155.9 191.8h0M144.8 192.9h0M153.2 173.3h0M107.4 191.3h0M153.3 183.9h0M129.1 194.5h0M146.5 173.8h0M155.2 211.3h0M122.2 176.0h0" stroke="#800080" stroke-width="4.4" stroke-linecap="round" fill="none"/><text x="230.40" y="32.50" font-size="22">N=3 </text><path transform="translate(271.37,32.50) scale(0.01074,-0.01074)" d="M855 0H585V1000C475 900 345 840 195 790V1030C285 1060 385 1120 475 1200C555 1270 605 1340 635 1409H855Z"/><path d="M96.50 198.35L128.66 192.99" stroke="#0000ff" stroke-width="1.7" fill="none"/><path d="M128.66 192.99L257.32 0.00" stroke="#ff0000" stroke-width="1.4" fill="none"/><path d="M167.2 67.9h14.8" stroke="#0000ff" stroke-width="1.8"/><text x="195.78" y="70.90" font-size="26" font-style="italic">α</text><text x="220.59" y="72.81" font-size="26">=</text><rect x="246.50" y="62.00" width="32.45" height="2.8"/><text x="247.00" y="55.00" font-size="19" font-style="italic">β</text><text x="257.79" y="55.00" font-size="19">+</text><text x="268.39" y="55.00" font-size="19">5</text><text x="257.44" y="84.00" font-size="19">6</text><path d="M159.8 117.1h14.8" stroke="#ff0000" stroke-width="1.8"/><text x="188.39" y="120.10" font-size="26" font-style="italic">α</text><text x="213.20" y="122.01" font-size="26">=</text><rect x="239.10" y="111.20" width="46.12" height="2.8"/><text x="239.10" y="104.20" font-size="19">3</text><text x="253.27" y="104.20" font-size="19" font-style="italic">β</text><text x="264.06" y="104.20" font-size="19">−</text><text x="274.65" y="104.20" font-size="19"> </text><path transform="translate(274.65,104.20) scale(0.00928,-0.00928)" d="M855 0H585V1000C475 900 345 840 195 790V1030C285 1060 385 1120 475 1200C555 1270 605 1340 635 1409H855Z"/><text x="256.88" y="133.20" font-size="19">2</text></g></svg></body></html>
